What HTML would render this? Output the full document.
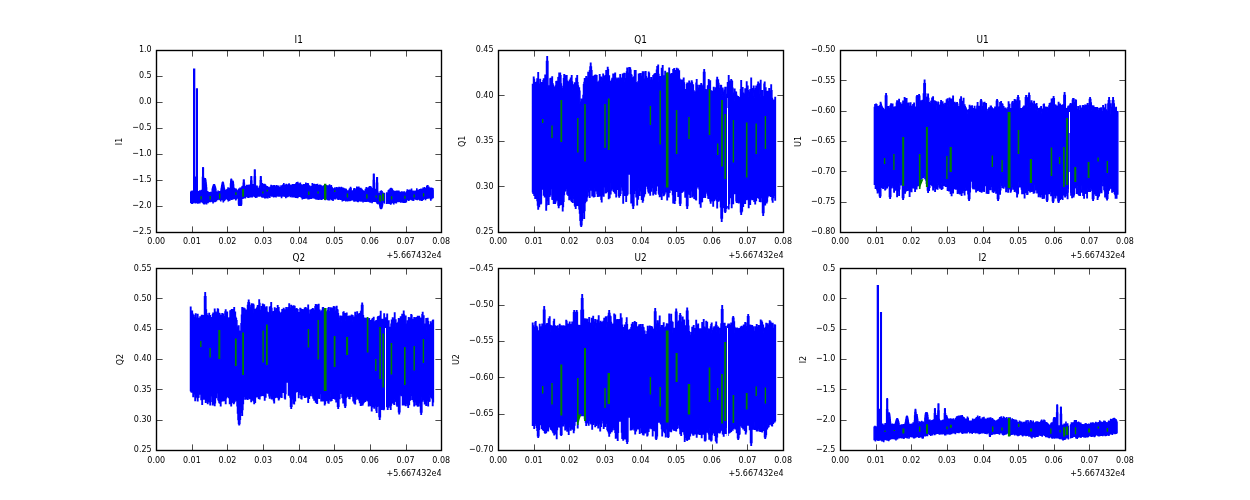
<!DOCTYPE html>
<html><head><meta charset="utf-8"><title>Stokes time series</title>
<style>
html,body{margin:0;padding:0;background:#fff;}
body{width:1250px;height:500px;overflow:hidden;}
svg{display:block;}
.t{font-family:'DejaVu Sans Condensed','DejaVu Sans','Liberation Sans',sans-serif;font-size:9.30px;fill:#000;}
.ti{font-family:'DejaVu Sans Condensed','DejaVu Sans','Liberation Sans',sans-serif;font-size:11.10px;fill:#000;}
</style></head><body>
<svg width="1250" height="500" viewBox="0 0 1250 500">
<rect width="1250" height="500" fill="#fff"/>
<g>
<clipPath id="c00"><rect x="156.25" y="50.00" width="284.93" height="181.82"/></clipPath>
<g clip-path="url(#c00)">
<path d="M190.68,192.8h.25V192.1h.25V191.4h.25V191.5h.25V191.5h.25V192.1h.25V191.2h.25V191.9h.25V192.9h.25V192h.25V193.9h.25V191.2h.25V191h.25V193.1h.25V193.1h.25V192.1h.25V193.3h.25V193.4h.25V193.3h.25V193h.25V192.7h.25V190.9h.25V193.5h.25V191h.25V192.8h.25V191.6h.25V192h.25V193.6h.25V192.5h.25V193.6h.25V194h.25V192.7h.25V191.8h.25V192.4h.25V193.1h.25V191.5h.25V191h.25V193.2h.25V192.7h.25V192.3h.25V191.2h.25V193.3h.25V192.4h.25V190.4h.25V192.2h.25V191.9h.25V191.7h.25V177.4h.25V168.3h.25V167.7h.25V168.3h.25V177.4h.25V185.3h.25V182.9h.25V181.1h.25V179.7h.25V179h.25V178.7h.25V179h.25V179.7h.25V181h.25V182.9h.25V185.2h.25V188h.25V192h.25V192.1h.25V191.8h.25V194h.25V192.9h.25V192.2h.25V193.9h.25V192.6h.25V192.7h.25V193.9h.25V194.2h.25V192.9h.25V193.6h.25V193.4h.25V192.8h.25V192.7h.25V192.5h.25V192.9h.25V193.4h.25V194.4h.25V193.9h.25V193.7h.25V189.4h.25V188.4h.25V187.5h.25V186.6h.25V185.9h.25V185.3h.25V184.9h.25V184.7h.25V184.9h.25V185.3h.25V185.9h.25V186.6h.25V187.5h.25V188.4h.25V189.4h.25V191.8h.25V193.7h.25V193.6h.25V193.9h.25V193.8h.25V192.8h.25V193.8h.25V194h.25V191.3h.25V193.2h.25V193h.25V193.1h.25V193.3h.25V192.1h.25V192.6h.25V191.8h.25V192.4h.25V192.7h.25V192.5h.25V192.1h.25V190.3h.25V188.8h.25V187.2h.25V185.7h.25V184.4h.25V183.3h.25V182.6h.25V182.2h.25V182.6h.25V183.3h.25V184.4h.25V185.6h.25V187.1h.25V188.7h.25V191.5h.25V192.1h.25V192.5h.25V192h.25V191.5h.25V190.8h.25V190.8h.25V190h.25V190.2h.25V191.3h.25V190.6h.25V191.1h.25V189.5h.25V190.6h.25V187.9h.25V191.1h.25V189.7h.25V190.2h.25V189.1h.25V190.6h.25V188.6h.25V191.4h.25V189.3h.25V187.7h.25V184h.25V181.3h.25V179.7h.25V179.2h.25V179.7h.25V181.3h.25V184h.25V182.9h.25V181.6h.25V181.2h.25V181.6h.25V182.9h.25V185h.25V188h.25V190.5h.25V190.1h.25V188.6h.25V189.5h.25V190.2h.25V189.8h.25V189.7h.25V189.1h.25V189.1h.25V191.1h.25V191.2h.25V190.3h.25V191.4h.25V190.9h.25V191h.25V192.2h.25V191h.25V192.1h.25V191.1h.25V189.2h.25V192h.25V190.6h.25V191.1h.25V190.6h.25V188.1h.25V189.4h.25V190.2h.25V188.7h.25V190.7h.25V188.3h.25V188h.25V189.5h.25V187h.25V187.5h.25V186.5h.25V189h.25V187.8h.25V183.1h.25V180.2h.25V180h.25V180.2h.25V183.1h.25V188.2h.25V189.1h.25V188h.25V189.3h.25V186.8h.25V186.8h.25V187.3h.25V187.8h.25V185.4h.25V185.7h.25V186.5h.25V187.8h.25V186.6h.25V185.4h.25V186.7h.25V187h.25V188.5h.25V187.2h.25V187.9h.25V185.2h.25V188.6h.25V187.9h.25V187.5h.25V189.4h.25V187h.25V181h.25V177h.25V176.7h.25V177h.25V181h.25V185.1h.25V184.9h.25V184.8h.25V184.7h.25V184.7h.25V184.7h.25V184.8h.25V184.9h.25V185h.25V176.9h.25V170.3h.25V169.9h.25V170.3h.25V176.9h.25V185.9h.25V188h.25V186.7h.25V186.3h.25V189.4h.25V188.2h.25V186.2h.25V189.7h.25V188.3h.25V188.4h.25V188.5h.25V188.8h.25V188.9h.25V188.4h.25V188.5h.25V188.4h.25V186.6h.25V186.1h.25V188.4h.25V180.8h.25V177h.25V176.7h.25V177h.25V180.8h.25V185.1h.25V184.6h.25V184.2h.25V183.7h.25V184.1h.25V184.6h.25V185h.25V185.5h.25V185.9h.25V186.4h.25V188.7h.25V186.6h.25V184.4h.25V185.8h.25V186.8h.25V184.9h.25V187h.25V186.3h.25V186.3h.25V187.6h.25V188.6h.25V188.3h.25V188.5h.25V186.6h.25V187.5h.25V188.4h.25V187.5h.25V187.9h.25V188.6h.25V188.1h.25V189h.25V188.7h.25V189h.25V189h.25V187.8h.25V187.1h.25V187.1h.25V188.6h.25V185.4h.25V187.5h.25V186.7h.25V187h.25V187.2h.25V186.7h.25V185.9h.25V186.7h.25V187.1h.25V186.9h.25V187.3h.25V188.2h.25V185.8h.25V188.1h.25V189h.25V185.9h.25V186.1h.25V187.8h.25V187.2h.25V187.4h.25V188.7h.25V187.1h.25V187.6h.25V185.8h.25V187.9h.25V188.3h.25V187.2h.25V187.5h.25V186.4h.25V188.6h.25V187.2h.25V186.2h.25V188.2h.25V188.5h.25V187.6h.25V187.7h.25V187.7h.25V187.9h.25V188.3h.25V187.5h.25V185.9h.25V188h.25V188.2h.25V185.9h.25V188.6h.25V187.9h.25V187h.25V185.1h.25V185.2h.25V185.4h.25V185.9h.25V183.8h.25V187.4h.25V185.9h.25V185.8h.25V185.2h.25V186h.25V186.2h.25V185.6h.25V185.4h.25V185.6h.25V184.4h.25V185.6h.25V186h.25V185.1h.25V185.6h.25V186.5h.25V186.4h.25V186.9h.25V185.8h.25V184.7h.25V185.4h.25V184h.25V186.6h.25V184.9h.25V185.1h.25V186.2h.25V185.7h.25V186.3h.25V186.2h.25V185.7h.25V186h.25V185.9h.25V185.1h.25V185.2h.25V186.3h.25V185.3h.25V184.7h.25V186.5h.25V184.7h.25V186.5h.25V185.2h.25V185.2h.25V186.2h.25V185.9h.25V184.6h.25V185.4h.25V185h.25V185.7h.25V184.7h.25V183.4h.25V184.4h.25V184.9h.25V182.7h.25V184.9h.25V185h.25V184.8h.25V182.5h.25V184.8h.25V185h.25V184.5h.25V184.3h.25V184h.25V184.1h.25V184.9h.25V185.5h.25V185.5h.25V183.2h.25V185.4h.25V184.7h.25V185.6h.25V186.6h.25V185.6h.25V185.3h.25V185.6h.25V186h.25V186.2h.25V186.6h.25V185.2h.25V185.7h.25V185h.25V184.8h.25V185.4h.25V185.3h.25V184.8h.25V184.8h.25V185.4h.25V185.1h.25V185.6h.25V183.3h.25V184.2h.25V184.7h.25V184.6h.25V185.1h.25V185.6h.25V185.8h.25V183.8h.25V185.9h.25V185.3h.25V184h.25V186.2h.25V186.5h.25V186.3h.25V186.1h.25V186h.25V186.6h.25V188.1h.25V188.2h.25V187.5h.25V188h.25V187.5h.25V187.8h.25V186.8h.25V186.7h.25V186.5h.25V183.8h.25V186.2h.25V184.4h.25V186h.25V185.4h.25V185.3h.25V185.2h.25V185.6h.25V184.5h.25V184.9h.25V185h.25V186.9h.25V187.2h.25V187h.25V186.3h.25V186.3h.25V184.7h.25V186.3h.25V184.7h.25V187h.25V187.1h.25V184.5h.25V186.8h.25V186.5h.25V185.6h.25V187.4h.25V187.5h.25V186.7h.25V186.3h.25V186.7h.25V185.2h.25V185.6h.25V185.8h.25V185.4h.25V186.1h.25V185.9h.25V186.1h.25V187.2h.25V187.6h.25V187.4h.25V187.5h.25V187.4h.25V188.6h.25V186.8h.25V186.2h.25V188.5h.25V187h.25V187.4h.25V185.6h.25V187.4h.25V187.3h.25V186.1h.25V186.1h.25V187h.25V186h.25V187.7h.25V185.6h.25V186.2h.25V186.5h.25V186h.25V187.6h.25V187h.25V188.5h.25V185.9h.25V187.2h.25V187.7h.25V186.1h.25V187.8h.25V186.5h.25V185h.25V186.9h.25V187h.25V186.9h.25V187h.25V187.7h.25V188.7h.25V185.7h.25V187.3h.25V188h.25V187.6h.25V188.6h.25V189.4h.25V190h.25V189.2h.25V188.9h.25V190h.25V189.8h.25V189.5h.25V191.1h.25V188.4h.25V189.9h.25V188h.25V189.3h.25V189.8h.25V190.5h.25V189.3h.25V190.6h.25V190h.25V187.6h.25V188.3h.25V188.7h.25V189.1h.25V189.1h.25V188.8h.25V188.2h.25V190.3h.25V188.2h.25V187.4h.25V189.4h.25V189.9h.25V190.6h.25V188.7h.25V189.5h.25V188h.25V188.3h.25V188h.25V187.4h.25V188.9h.25V188h.25V188.6h.25V189.1h.25V190.2h.25V188.2h.25V189.2h.25V189.4h.25V188.4h.25V190.2h.25V190.6h.25V189.1h.25V189h.25V189.8h.25V189.8h.25V189.3h.25V189.1h.25V189.7h.25V189.5h.25V190.1h.25V192.6h.25V191.2h.25V193.1h.25V192.7h.25V191.9h.25V192.4h.25V190.9h.25V192.6h.25V192.3h.25V192.9h.25V191.3h.25V190h.25V189.1h.25V189h.25V189.7h.25V190.3h.25V187.4h.25V190.5h.25V188.5h.25V192.4h.25V191.8h.25V191.7h.25V191.7h.25V191.3h.25V191.1h.25V191h.25V192.4h.25V191.6h.25V191.9h.25V189.2h.25V191.2h.25V188.6h.25V191.2h.25V190.2h.25V190.5h.25V190.9h.25V191.1h.25V190.2h.25V189.2h.25V190.4h.25V188.8h.25V187.1h.25V189.2h.25V189h.25V187.5h.25V189.5h.25V189.7h.25V188.2h.25V188.5h.25V187.1h.25V188.3h.25V188.8h.25V189.2h.25V189.6h.25V189.2h.25V190.2h.25V190.7h.25V188.5h.25V189.1h.25V190.9h.25V191.1h.25V189.5h.25V190.1h.25V191.9h.25V190.9h.25V191.2h.25V191.3h.25V190.9h.25V191.7h.25V194.2h.25V192.5h.25V193.8h.25V191.8h.25V192.1h.25V192.7h.25V190.2h.25V189.5h.25V190.3h.25V189.3h.25V187.7h.25V190.7h.25V189.7h.25V188.6h.25V189.9h.25V189.5h.25V188.3h.25V190.7h.25V191.2h.25V188.9h.25V188.1h.25V187.6h.25V187.2h.25V186.9h.25V186.7h.25V186.7h.25V186.7h.25V186.9h.25V187.2h.25V187.6h.25V188.1h.25V188.8h.25V190.8h.25V191.2h.25V190.9h.25V189h.25V189.2h.25V190.2h.25V180.5h.25V174.5h.25V174.1h.25V174.5h.25V180.7h.25V192.8h.25V192.4h.25V192.2h.25V189.5h.25V190.5h.25V190.1h.25V190.7h.25V190.4h.25V183.1h.25V178h.25V177.7h.25V178h.25V183.2h.25V191.9h.25V193.5h.25V193.6h.25V193.7h.25V193.5h.25V193.6h.25V193.8h.25V193.8h.25V194.4h.25V193.7h.25V191.7h.25V191.9h.25V192.3h.25V193h.25V191h.25V193.9h.25V194.2h.25V191.7h.25V193.5h.25V193.6h.25V193.7h.25V193.3h.25V193.5h.25V193.3h.25V194.5h.25V193.9h.25V194.3h.25V193.8h.25V194.1h.25V195.6h.25V194.8h.25V194.2h.25V193.9h.25V194.6h.25V194.2h.25V193h.25V194.7h.25V194.4h.25V194.2h.25V194.4h.25V193.4h.25V193.3h.25V191.2h.25V190.6h.25V191h.25V191.2h.25V190h.25V190.8h.25V190.7h.25V189.9h.25V188.9h.25V189.2h.25V188.8h.25V188.4h.25V188.7h.25V189.1h.25V189.5h.25V189.9h.25V189.3h.25V190.9h.25V190.7h.25V191.2h.25V191.5h.25V191.9h.25V191.1h.25V192.7h.25V192.3h.25V191.8h.25V192h.25V192h.25V191.9h.25V192.9h.25V192.8h.25V193h.25V191.2h.25V191.3h.25V192.9h.25V192.3h.25V192.1h.25V191.1h.25V191.3h.25V192.5h.25V192h.25V191.8h.25V191.3h.25V193.6h.25V193.6h.25V192.3h.25V192.6h.25V193.5h.25V193.6h.25V193.3h.25V194.3h.25V193h.25V192.5h.25V193.8h.25V192h.25V192.2h.25V194.1h.25V192.5h.25V192.4h.25V192.8h.25V194.7h.25V194.1h.25V192.2h.25V193.8h.25V192h.25V193.1h.25V193.8h.25V193.1h.25V194h.25V194.6h.25V193.8h.25V194.4h.25V192.5h.25V193h.25V192h.25V191.4h.25V189.9h.25V191.4h.25V191.5h.25V191.3h.25V192.4h.25V191.7h.25V190.5h.25V191.5h.25V191.7h.25V190.9h.25V190.2h.25V191.6h.25V191.9h.25V191.7h.25V190.8h.25V191.9h.25V191.9h.25V189.2h.25V192.3h.25V193.6h.25V191.9h.25V192.3h.25V191.5h.25V191.1h.25V193.2h.25V192h.25V193h.25V192.1h.25V193.5h.25V191.8h.25V192.2h.25V191.2h.25V191.6h.25V191.1h.25V191.6h.25V192.5h.25V191.7h.25V191.8h.25V189h.25V192.1h.25V190.4h.25V191.8h.25V191.3h.25V190.4h.25V190.7h.25V191.9h.25V191.2h.25V191.1h.25V190.4h.25V189.7h.25V189.8h.25V190.9h.25V189.7h.25V189.6h.25V190.2h.25V189.3h.25V190.1h.25V189.6h.25V190.1h.25V190.4h.25V191h.25V189.9h.25V189.8h.25V188.3h.25V190.3h.25V190.7h.25V190h.25V189.2h.25V190.3h.25V187.8h.25V190.1h.25V189.3h.25V190.4h.25V189.4h.25V188.8h.25V189.4h.25V189.8h.25V188.1h.25V186.1h.25V188.6h.25V187.5h.25V187.9h.25V185.7h.25V189.7h.25V188.1h.25V190.2h.25V187.3h.25V189.9h.25V189.1h.25V189.2h.25V189h.25V188.1h.25V190.1h.25V189.5h.25V189.7h.25V191h.25V189.6h.25V188.3h.25V189.9h.25V190.7h.25V190.7h.25V190.3h.25V188.6h.25V190.2h.25V197.5h-.25V197.3h-.25V197.4h-.25V197.3h-.25V197.3h-.25V198.6h-.25V198.1h-.25V198.2h-.25V197.8h-.25V200h-.25V198.7h-.25V198.2h-.25V196.9h-.25V197h-.25V196.9h-.25V196.2h-.25V197.2h-.25V197.6h-.25V197.5h-.25V196h-.25V198h-.25V197.5h-.25V197.5h-.25V197.9h-.25V196.5h-.25V197.6h-.25V198.3h-.25V197.7h-.25V198.1h-.25V198.3h-.25V199.6h-.25V198.4h-.25V198h-.25V198.4h-.25V198.2h-.25V198.4h-.25V198.2h-.25V198.3h-.25V198.9h-.25V197.8h-.25V199.2h-.25V199.2h-.25V198.4h-.25V200h-.25V198.7h-.25V200.2h-.25V198.3h-.25V199h-.25V199.4h-.25V199h-.25V199.2h-.25V198h-.25V200h-.25V199.5h-.25V199.2h-.25V198.9h-.25V198.1h-.25V198.9h-.25V198.4h-.25V198.1h-.25V198.1h-.25V199h-.25V199h-.25V199.6h-.25V199h-.25V197.8h-.25V198.3h-.25V196.9h-.25V199.2h-.25V198.3h-.25V198h-.25V198.6h-.25V197.7h-.25V197.8h-.25V197.1h-.25V198.5h-.25V198.5h-.25V199.4h-.25V200.4h-.25V199h-.25V200.1h-.25V198.8h-.25V199.7h-.25V200h-.25V198.5h-.25V198.8h-.25V199.2h-.25V198.9h-.25V198.8h-.25V199h-.25V198.7h-.25V199h-.25V198.8h-.25V198.4h-.25V199.6h-.25V198.3h-.25V199.4h-.25V200.3h-.25V199.8h-.25V199.5h-.25V198.5h-.25V198.9h-.25V198.8h-.25V199.7h-.25V199.3h-.25V199.9h-.25V199.2h-.25V201.7h-.25V199.5h-.25V200.2h-.25V200h-.25V200.2h-.25V202.2h-.25V201.1h-.25V202.1h-.25V200.8h-.25V202.4h-.25V200.8h-.25V202.4h-.25V200.6h-.25V202.1h-.25V202h-.25V200.9h-.25V200.5h-.25V200.7h-.25V201.7h-.25V200.4h-.25V199.7h-.25V201.5h-.25V202h-.25V202h-.25V200.6h-.25V201h-.25V199.8h-.25V200.4h-.25V201.4h-.25V199.6h-.25V200.3h-.25V201.4h-.25V199.7h-.25V201.6h-.25V200.1h-.25V200h-.25V199.6h-.25V201.5h-.25V201h-.25V200h-.25V202.7h-.25V201.2h-.25V202.5h-.25V201.7h-.25V201.5h-.25V202.1h-.25V202.3h-.25V200.8h-.25V201.4h-.25V201.5h-.25V203.9h-.25V202.5h-.25V202.1h-.25V201.8h-.25V201.3h-.25V201.5h-.25V201.8h-.25V202.1h-.25V202.4h-.25V203.1h-.25V202.2h-.25V202.1h-.25V204h-.25V202.9h-.25V203.6h-.25V202.1h-.25V202.4h-.25V201.2h-.25V202.4h-.25V203.3h-.25V203.1h-.25V201.9h-.25V201.1h-.25V202.1h-.25V201.5h-.25V202h-.25V202.6h-.25V203.4h-.25V201.8h-.25V201.4h-.25V202.1h-.25V202.2h-.25V202.3h-.25V203.2h-.25V202.4h-.25V201.8h-.25V202.7h-.25V200.8h-.25V200.9h-.25V201.1h-.25V200.9h-.25V202h-.25V201h-.25V200.9h-.25V203.1h-.25V204.5h-.25V205.7h-.25V206.7h-.25V207.5h-.25V208.1h-.25V208.4h-.25V208.5h-.25V208.4h-.25V208h-.25V207.5h-.25V206.7h-.25V205.6h-.25V204.3h-.25V202.8h-.25V202.3h-.25V201.3h-.25V202.6h-.25V200.2h-.25V202h-.25V203.5h-.25V201.5h-.25V203.2h-.25V202.1h-.25V202.1h-.25V201.3h-.25V201.5h-.25V199.9h-.25V201h-.25V200.4h-.25V200.3h-.25V201.4h-.25V200.2h-.25V201.3h-.25V200.9h-.25V201.4h-.25V199.9h-.25V200.6h-.25V201.2h-.25V201h-.25V200.2h-.25V201h-.25V201h-.25V202.5h-.25V200.6h-.25V200.4h-.25V199.9h-.25V200.8h-.25V200.6h-.25V200.7h-.25V202.1h-.25V200.4h-.25V200.4h-.25V201.5h-.25V200.7h-.25V201.2h-.25V200.7h-.25V201h-.25V200.8h-.25V200.5h-.25V199.6h-.25V200.6h-.25V199.3h-.25V199.7h-.25V201.2h-.25V199.9h-.25V200.9h-.25V199.9h-.25V201.3h-.25V201h-.25V200.8h-.25V201.4h-.25V201.1h-.25V200.7h-.25V200.4h-.25V200.5h-.25V200.1h-.25V200h-.25V199.8h-.25V201.7h-.25V200.8h-.25V200.9h-.25V200h-.25V200.3h-.25V200.4h-.25V200.1h-.25V199.3h-.25V201h-.25V200.1h-.25V199.8h-.25V199.6h-.25V200.1h-.25V200.9h-.25V200.2h-.25V199.6h-.25V200.9h-.25V200.6h-.25V199.9h-.25V200.7h-.25V201.5h-.25V200.9h-.25V200.9h-.25V201.3h-.25V200.4h-.25V199.2h-.25V199.4h-.25V199.1h-.25V199.3h-.25V198.3h-.25V200.5h-.25V199.1h-.25V199h-.25V201h-.25V200.4h-.25V199.8h-.25V201h-.25V200h-.25V198.5h-.25V199.5h-.25V199.5h-.25V199.5h-.25V199.7h-.25V199.5h-.25V199.1h-.25V198.6h-.25V199.5h-.25V199.4h-.25V199.8h-.25V199.5h-.25V200.4h-.25V200.2h-.25V199.4h-.25V200.5h-.25V199.3h-.25V199.5h-.25V200.4h-.25V200.1h-.25V200.4h-.25V199.6h-.25V199.5h-.25V200.9h-.25V199.6h-.25V199.1h-.25V198.8h-.25V200.5h-.25V199h-.25V198.4h-.25V199.4h-.25V200.8h-.25V199h-.25V199.3h-.25V198.9h-.25V198.9h-.25V199.3h-.25V199.8h-.25V198.6h-.25V200.4h-.25V198.6h-.25V198.1h-.25V198.3h-.25V198.7h-.25V198.7h-.25V200.7h-.25V198.7h-.25V198.9h-.25V199.1h-.25V198.8h-.25V199.1h-.25V198.9h-.25V199.4h-.25V198.2h-.25V199.1h-.25V198.7h-.25V198.8h-.25V197.6h-.25V198.3h-.25V198.2h-.25V197.5h-.25V199.3h-.25V197.6h-.25V197.7h-.25V198.7h-.25V198.1h-.25V197.2h-.25V197.7h-.25V197.4h-.25V197.5h-.25V197.4h-.25V197.4h-.25V197.8h-.25V198.9h-.25V198.7h-.25V196.6h-.25V197.8h-.25V198.6h-.25V197.4h-.25V197.8h-.25V198.3h-.25V197.8h-.25V200.2h-.25V198h-.25V198.5h-.25V199.1h-.25V199.2h-.25V199.6h-.25V197.6h-.25V198.1h-.25V197.9h-.25V198h-.25V198.8h-.25V198.2h-.25V198.4h-.25V197.6h-.25V199.9h-.25V197.9h-.25V199h-.25V198.4h-.25V198.1h-.25V199.9h-.25V198.5h-.25V199.2h-.25V198.8h-.25V198.6h-.25V198.2h-.25V197.7h-.25V198.3h-.25V197.5h-.25V198.5h-.25V198.9h-.25V197.9h-.25V199.5h-.25V199.2h-.25V197.3h-.25V196.8h-.25V198h-.25V198.2h-.25V198.1h-.25V197.7h-.25V198.2h-.25V198.4h-.25V198.6h-.25V198.3h-.25V198.5h-.25V198.5h-.25V199h-.25V199.2h-.25V198h-.25V198.8h-.25V198.1h-.25V198.6h-.25V199h-.25V197.8h-.25V198.7h-.25V198.4h-.25V198.6h-.25V197.9h-.25V198.8h-.25V199.3h-.25V199.1h-.25V196.9h-.25V198.1h-.25V197.4h-.25V197.2h-.25V199.1h-.25V197.7h-.25V197.8h-.25V197.2h-.25V197.7h-.25V198.9h-.25V198.5h-.25V197.5h-.25V197.2h-.25V197.4h-.25V198h-.25V197.6h-.25V197.9h-.25V196.8h-.25V196.2h-.25V197.4h-.25V196.8h-.25V195.7h-.25V197.7h-.25V196.1h-.25V197.3h-.25V196.1h-.25V197h-.25V198.1h-.25V198.2h-.25V197.5h-.25V197.7h-.25V197h-.25V198.4h-.25V197.6h-.25V196.7h-.25V198.5h-.25V196.6h-.25V198.1h-.25V198.7h-.25V197.7h-.25V198.9h-.25V197.5h-.25V197.8h-.25V197.6h-.25V197.7h-.25V197.2h-.25V196.6h-.25V197.7h-.25V197.7h-.25V198h-.25V197.6h-.25V197.7h-.25V197.1h-.25V197.3h-.25V196.3h-.25V196.6h-.25V198.4h-.25V198.4h-.25V197h-.25V197.3h-.25V196.8h-.25V198.4h-.25V196.4h-.25V198.7h-.25V197.4h-.25V197h-.25V197h-.25V197.1h-.25V195.8h-.25V196.2h-.25V196h-.25V195.4h-.25V195.2h-.25V195.5h-.25V195.4h-.25V196.2h-.25V196.1h-.25V196h-.25V196.2h-.25V195.9h-.25V195.1h-.25V197.3h-.25V197.6h-.25V196.1h-.25V196h-.25V196.2h-.25V197.4h-.25V196.2h-.25V197.4h-.25V195.8h-.25V197.3h-.25V196.2h-.25V195.6h-.25V195.5h-.25V195.4h-.25V195.9h-.25V196h-.25V196.7h-.25V195.8h-.25V196.7h-.25V195.2h-.25V196.2h-.25V196.5h-.25V195.9h-.25V196.7h-.25V195.2h-.25V195.6h-.25V194.6h-.25V194.7h-.25V193.9h-.25V194.4h-.25V196.6h-.25V194.4h-.25V194.7h-.25V194.7h-.25V195.4h-.25V194.3h-.25V194.5h-.25V194.8h-.25V196.1h-.25V195.9h-.25V196h-.25V196.5h-.25V195.4h-.25V195.2h-.25V194.9h-.25V196.8h-.25V195.5h-.25V196.9h-.25V197.5h-.25V195.6h-.25V196.4h-.25V195.5h-.25V195.3h-.25V195.8h-.25V196.1h-.25V196.1h-.25V194.7h-.25V195.6h-.25V195.4h-.25V194h-.25V195.7h-.25V195.7h-.25V195.3h-.25V196h-.25V195.6h-.25V197.5h-.25V196.2h-.25V195.5h-.25V195.3h-.25V195.5h-.25V195.1h-.25V195.9h-.25V195.4h-.25V194.9h-.25V196.1h-.25V195.1h-.25V195.6h-.25V194.9h-.25V194.3h-.25V196h-.25V195.6h-.25V195h-.25V194.6h-.25V194.8h-.25V195.2h-.25V195.1h-.25V195.3h-.25V196.9h-.25V194.4h-.25V194.4h-.25V195.6h-.25V195.2h-.25V195.4h-.25V196.1h-.25V196.2h-.25V195.6h-.25V196.8h-.25V196.5h-.25V195.9h-.25V195.3h-.25V195.6h-.25V196.1h-.25V195.4h-.25V195.3h-.25V196.1h-.25V195.5h-.25V195h-.25V195.2h-.25V195h-.25V195.6h-.25V194.5h-.25V195.4h-.25V197.3h-.25V196h-.25V195.9h-.25V195.6h-.25V196.1h-.25V196.4h-.25V196.7h-.25V196.2h-.25V197.8h-.25V197.7h-.25V196.4h-.25V196h-.25V197.4h-.25V195.8h-.25V196.6h-.25V196.1h-.25V197h-.25V197.9h-.25V196.2h-.25V197.2h-.25V197.9h-.25V196.4h-.25V196.5h-.25V196.6h-.25V197h-.25V196.4h-.25V195.9h-.25V196.5h-.25V197.1h-.25V196h-.25V196.1h-.25V195.4h-.25V196.7h-.25V196.1h-.25V195.8h-.25V195.6h-.25V194.6h-.25V195.2h-.25V195.6h-.25V195h-.25V195.4h-.25V196.1h-.25V195.3h-.25V195.7h-.25V195.1h-.25V195.6h-.25V195.2h-.25V196h-.25V195.1h-.25V195.1h-.25V195.1h-.25V194.9h-.25V197.1h-.25V196.2h-.25V195.6h-.25V196.5h-.25V195.3h-.25V197.2h-.25V195.5h-.25V195.9h-.25V195.6h-.25V196.4h-.25V195h-.25V195.1h-.25V194.9h-.25V195.8h-.25V195.2h-.25V194.7h-.25V195.3h-.25V195.9h-.25V196.7h-.25V196.6h-.25V195.4h-.25V195.7h-.25V196.5h-.25V196.7h-.25V195.9h-.25V195h-.25V195.9h-.25V196.8h-.25V196.9h-.25V195.4h-.25V195.9h-.25V197h-.25V196.3h-.25V196.7h-.25V195.9h-.25V197.2h-.25V196.2h-.25V196.1h-.25V195.3h-.25V196.6h-.25V195.1h-.25V195.2h-.25V195.3h-.25V194.7h-.25V195.5h-.25V196.2h-.25V197.9h-.25V197.2h-.25V197.3h-.25V197.4h-.25V197.1h-.25V197.6h-.25V196.7h-.25V196.6h-.25V197.9h-.25V197.8h-.25V198.4h-.25V195.9h-.25V196.7h-.25V198.4h-.25V196.1h-.25V203.7h-.25V204.9h-.25V205.2h-.25V205.3h-.25V205.3h-.25V205.3h-.25V205.3h-.25V205.3h-.25V205.3h-.25V205.3h-.25V205.2h-.25V204.9h-.25V203.8h-.25V197h-.25V196.7h-.25V197.2h-.25V197.9h-.25V197.6h-.25V198.1h-.25V197.9h-.25V197.3h-.25V198.8h-.25V197.9h-.25V199.9h-.25V198.1h-.25V198.7h-.25V196.1h-.25V198.2h-.25V196.7h-.25V197.3h-.25V196.6h-.25V198.2h-.25V197.1h-.25V197.6h-.25V198.9h-.25V198.1h-.25V197.4h-.25V197.4h-.25V196.6h-.25V199.2h-.25V196.9h-.25V197.4h-.25V197.6h-.25V197.4h-.25V199h-.25V197.7h-.25V197.6h-.25V200h-.25V199.2h-.25V199.5h-.25V199h-.25V200.4h-.25V199.3h-.25V200.7h-.25V198.8h-.25V199.3h-.25V199.2h-.25V198.6h-.25V198.6h-.25V198.6h-.25V198.5h-.25V198.2h-.25V198.4h-.25V198.4h-.25V198.2h-.25V198.1h-.25V199.5h-.25V199.4h-.25V199h-.25V200.4h-.25V200h-.25V199.5h-.25V201h-.25V201.7h-.25V199.5h-.25V199.8h-.25V199.3h-.25V199.4h-.25V199h-.25V199h-.25V199.3h-.25V199h-.25V198.5h-.25V200.7h-.25V198.8h-.25V198.2h-.25V199.4h-.25V197.9h-.25V198.3h-.25V199.5h-.25V198.3h-.25V198.7h-.25V198.6h-.25V199.1h-.25V197.9h-.25V199.1h-.25V198.5h-.25V198.8h-.25V199.3h-.25V199.3h-.25V200.5h-.25V200h-.25V200h-.25V200.3h-.25V201.4h-.25V199.7h-.25V199.7h-.25V201.5h-.25V201.4h-.25V200.2h-.25V200.5h-.25V201.1h-.25V201.3h-.25V201.1h-.25V202.8h-.25V200.5h-.25V201.2h-.25V201h-.25V200.3h-.25V200.9h-.25V201.1h-.25V199.7h-.25V200.9h-.25V200.3h-.25V201.5h-.25V200h-.25V201.2h-.25V201.6h-.25V199.8h-.25V201h-.25V200.4h-.25V200.7h-.25V201.4h-.25V200.7h-.25V202.6h-.25V201.3h-.25V201.9h-.25V201.6h-.25V201.8h-.25V201.6h-.25V203.7h-.25V203h-.25V201.9h-.25V202h-.25V202.4h-.25V201.4h-.25V202.3h-.25V202.7h-.25V203.9h-.25V203.4h-.25V203.8h-.25V203.4h-.25V203.1h-.25V202.7h-.25V202.3h-.25V202h-.25V201.2h-.25V201.3h-.25V200.7h-.25V201.8h-.25V201.8h-.25V201.5h-.25V201.3h-.25V201.2h-.25V200.7h-.25V201.1h-.25V201.4h-.25V202.8h-.25V200.7h-.25V201.6h-.25V201.2h-.25V201.3h-.25V202.7h-.25V202.5h-.25V200.6h-.25V203.1h-.25V201.2h-.25V201.8h-.25V201.3h-.25V200.9h-.25V202h-.25V202.6h-.25V201.5h-.25V201.8h-.25V202.9h-.25V201.9h-.25V201.5h-.25V201.8h-.25V200.8h-.25V200.9h-.25V201.2h-.25V202.5h-.25V201.9h-.25V202.2h-.25V202.4h-.25V202.6h-.25V202.8h-.25V203.1h-.25V203.3h-.25V203.1h-.25V202.8h-.25V202.6h-.25V202.4h-.25V202.2h-.25Z" fill="#0000ff" stroke="#0000ff" stroke-width="1.39" stroke-linejoin="miter"/>
<line x1="194.15" y1="68.6" x2="194.15" y2="195.0" stroke="#0000ff" stroke-width="2.30"/>
<line x1="196.95" y1="88.3" x2="196.95" y2="195.0" stroke="#0000ff" stroke-width="2.10"/>
<line x1="195.60" y1="176.5" x2="195.60" y2="195.0" stroke="#0000ff" stroke-width="1.20"/>
<line x1="385.5" y1="186.0" x2="385.5" y2="208.0" stroke="#fff" stroke-width="0.7"/>
<line x1="201.1" y1="196.2" x2="201.1" y2="199.4" stroke="#008000" stroke-width="1.4"/>
<line x1="210.2" y1="196.0" x2="210.2" y2="199.4" stroke="#008000" stroke-width="1.4"/>
<line x1="219.7" y1="193.6" x2="219.7" y2="198.8" stroke="#008000" stroke-width="1.4"/>
<line x1="235.9" y1="192.3" x2="235.9" y2="194.9" stroke="#008000" stroke-width="1.4"/>
<line x1="243.1" y1="189.0" x2="243.1" y2="196.8" stroke="#008000" stroke-width="2.0"/>
<line x1="262.9" y1="191.6" x2="262.9" y2="193.6" stroke="#008000" stroke-width="1.4"/>
<line x1="267.2" y1="189.7" x2="267.2" y2="191.6" stroke="#008000" stroke-width="1.4"/>
<line x1="308.8" y1="191.6" x2="308.8" y2="194.9" stroke="#008000" stroke-width="1.4"/>
<line x1="318.1" y1="191.6" x2="318.1" y2="193.6" stroke="#008000" stroke-width="1.4"/>
<line x1="325.2" y1="183.8" x2="325.2" y2="200.0" stroke="#008000" stroke-width="2.4"/>
<line x1="334.8" y1="190.3" x2="334.8" y2="191.9" stroke="#008000" stroke-width="1.4"/>
<line x1="347.4" y1="193.6" x2="347.4" y2="197.5" stroke="#008000" stroke-width="1.4"/>
<line x1="366.9" y1="194.2" x2="366.9" y2="198.4" stroke="#008000" stroke-width="1.4"/>
<line x1="376.2" y1="195.5" x2="376.2" y2="197.5" stroke="#008000" stroke-width="1.4"/>
<line x1="380.2" y1="195.3" x2="380.2" y2="201.4" stroke="#008000" stroke-width="2.0"/>
<line x1="383.1" y1="193.6" x2="383.1" y2="200.7" stroke="#008000" stroke-width="2.0"/>
<line x1="391.6" y1="196.2" x2="391.6" y2="199.4" stroke="#008000" stroke-width="1.4"/>
<line x1="404.9" y1="195.8" x2="404.9" y2="198.8" stroke="#008000" stroke-width="1.4"/>
<line x1="414.2" y1="194.5" x2="414.2" y2="197.5" stroke="#008000" stroke-width="1.4"/>
<line x1="423.6" y1="193.2" x2="423.6" y2="196.6" stroke="#008000" stroke-width="1.4"/>
</g>
<path d="M156.5,232.5v-6.1M156.5,50.5v6.1M192.5,232.5v-6.1M192.5,50.5v6.1M227.5,232.5v-6.1M227.5,50.5v6.1M263.5,232.5v-6.1M263.5,50.5v6.1M299.5,232.5v-6.1M299.5,50.5v6.1M334.5,232.5v-6.1M334.5,50.5v6.1M370.5,232.5v-6.1M370.5,50.5v6.1M406.5,232.5v-6.1M406.5,50.5v6.1M441.5,232.5v-6.1M441.5,50.5v6.1M156.5,232.5h6.1M441.5,232.5h-6.1M156.5,206.5h6.1M441.5,206.5h-6.1M156.5,180.5h6.1M441.5,180.5h-6.1M156.5,154.5h6.1M441.5,154.5h-6.1M156.5,128.5h6.1M441.5,128.5h-6.1M156.5,102.5h6.1M441.5,102.5h-6.1M156.5,76.5h6.1M441.5,76.5h-6.1M156.5,50.5h6.1M441.5,50.5h-6.1" stroke="#000" stroke-width="0.7" fill="none"/>
<rect x="156.5" y="50.5" width="285.0" height="182.0" fill="none" stroke="#000" stroke-width="1.39"/>
<text class="t" text-anchor="middle" transform="translate(156.25,244.00) scale(0.960,1)">0.00</text>
<text class="t" text-anchor="middle" transform="translate(191.87,244.00) scale(0.960,1)">0.01</text>
<text class="t" text-anchor="middle" transform="translate(227.48,244.00) scale(0.960,1)">0.02</text>
<text class="t" text-anchor="middle" transform="translate(263.10,244.00) scale(0.960,1)">0.03</text>
<text class="t" text-anchor="middle" transform="translate(298.71,244.00) scale(0.960,1)">0.04</text>
<text class="t" text-anchor="middle" transform="translate(334.33,244.00) scale(0.960,1)">0.05</text>
<text class="t" text-anchor="middle" transform="translate(369.94,244.00) scale(0.960,1)">0.06</text>
<text class="t" text-anchor="middle" transform="translate(405.56,244.00) scale(0.960,1)">0.07</text>
<text class="t" text-anchor="middle" transform="translate(441.18,244.00) scale(0.960,1)">0.08</text>
<text class="t" text-anchor="end" transform="translate(441.58,258.02) scale(0.960,1)">+5.667432e4</text>
<text class="t" text-anchor="end" transform="translate(151.65,234.00) scale(0.960,1)">−2.5</text>
<text class="t" text-anchor="end" transform="translate(151.65,208.00) scale(0.960,1)">−2.0</text>
<text class="t" text-anchor="end" transform="translate(151.65,182.00) scale(0.960,1)">−1.5</text>
<text class="t" text-anchor="end" transform="translate(151.65,156.00) scale(0.960,1)">−1.0</text>
<text class="t" text-anchor="end" transform="translate(151.65,130.00) scale(0.960,1)">−0.5</text>
<text class="t" text-anchor="end" transform="translate(151.65,104.00) scale(0.960,1)">0.0</text>
<text class="t" text-anchor="end" transform="translate(151.65,78.00) scale(0.960,1)">0.5</text>
<text class="t" text-anchor="end" transform="translate(151.65,52.00) scale(0.960,1)">1.0</text>
<text class="ti" text-anchor="middle" transform="translate(298.71,43.00) scale(0.890,1)">I1</text>
<text class="t" text-anchor="middle" transform="translate(121.95,141.41) rotate(-90) scale(0.960,1)">I1</text>
</g>
<g>
<clipPath id="c10"><rect x="498.16" y="50.00" width="284.93" height="181.82"/></clipPath>
<g clip-path="url(#c10)">
<path d="M532.45,84.5h.5V87.3h.5V77.3h.5V79.4h.5V85.3h.5V83.7h.5V82.7h.5V82.6h.5V82.1h.5V78.9h.5V82.7h.5V72.8h.5V84.1h.5V84.2h.5V85.2h.5V79.4h.5V82.9h.5V84.1h.5V85.2h.5V82.8h.5V84.6h.5V80.6h.5V79h.5V79.8h.5V81.4h.5V75.1h.5V79.1h.5V79.3h.5V61.5h.5V56.7h.5V61.5h.5V88h.5V88.1h.5V86h.5V92.5h.5V79h.5V78.4h.5V79.8h.5V83.1h.5V76.9h.5V83.6h.5V85.2h.5V88.2h.5V89.8h.5V88h.5V87h.5V86h.5V81.8h.5V81.4h.5V84.4h.5V82.1h.5V77.6h.5V77.4h.5V73.1h.5V78.7h.5V73.2h.5V75.7h.5V83.9h.5V90.6h.5V88.7h.5V89.6h.5V86.5h.5V78.8h.5V74.6h.5V75.4h.5V81.8h.5V77.1h.5V76.3h.5V75.8h.5V81.1h.5V86.7h.5V86.3h.5V82h.5V82.7h.5V80.1h.5V85.2h.5V78.1h.5V85.5h.5V75.6h.5V81.9h.5V87.6h.5V89.9h.5V86h.5V84.8h.5V82.9h.5V85.5h.5V83.4h.5V78.5h.5V85.1h.5V75.7h.5V82.6h.5V85.9h.5V94.2h.5V88h.5V91.2h.5V104.3h.5V106.5h.5V102.3h.5V99.3h.5V109h.5V108.8h.5V95.4h.5V84.6h.5V82.4h.5V78.6h.5V82.1h.5V80.5h.5V76.7h.5V78.3h.5V78.4h.5V79.8h.5V72.5h.5V80.2h.5V77.1h.5V70.7h.5V66.9h.5V63.1h.5V66.9h.5V70.7h.5V78.2h.5V78.5h.5V76.7h.5V76.5h.5V77.3h.5V75.6h.5V75.4h.5V75.3h.5V77.9h.5V75.6h.5V82.2h.5V85.4h.5V82.2h.5V83.9h.5V81.1h.5V74.8h.5V78.8h.5V77.4h.5V77.2h.5V78.4h.5V80.9h.5V85.9h.5V74.2h.5V80h.5V82.6h.5V76.2h.5V79.3h.5V75.8h.5V70.8h.5V72.8h.5V75.6h.5V67.5h.5V69.8h.5V79h.5V76h.5V82.7h.5V83.9h.5V81.4h.5V85h.5V80.1h.5V78.4h.5V79.4h.5V74.1h.5V77.5h.5V74.7h.5V74.1h.5V73.1h.5V78h.5V82.1h.5V78.9h.5V83.6h.5V79.1h.5V78.2h.5V79.3h.5V79.5h.5V79.7h.5V74.7h.5V80.8h.5V78.3h.5V78.6h.5V78.9h.5V74.3h.5V75.7h.5V75h.5V73.5h.5V78.8h.5V82.4h.5V80.7h.5V73.7h.5V71.9h.5V68.3h.5V73.7h.5V75.8h.5V73.1h.5V67.8h.5V75h.5V67.9h.5V70.2h.5V74.6h.5V75.4h.5V78.1h.5V78.2h.5V79.2h.5V77.7h.5V76.7h.5V70.7h.5V77.8h.5V70.7h.5V82.7h.5V84.8h.5V85.6h.5V83.5h.5V81.7h.5V74.1h.5V77.1h.5V77.6h.5V73.7h.5V76.4h.5V77.1h.5V80.1h.5V73.7h.5V72h.5V75.6h.5V71.9h.5V79.2h.5V82.1h.5V79.4h.5V71.7h.5V76.8h.5V78.7h.5V79.1h.5V79h.5V78.3h.5V72.2h.5V73.4h.5V80.2h.5V80.3h.5V84.9h.5V77.7h.5V82.4h.5V80.2h.5V84.5h.5V75.7h.5V83.2h.5V74.7h.5V74h.5V74.2h.5V73.8h.5V74h.5V70.2h.5V66.8h.5V72.1h.5V65.1h.5V74.4h.5V81.9h.5V76.8h.5V81.4h.5V76.9h.5V79.1h.5V68.4h.5V76.1h.5V65.6h.5V76.1h.5V75.9h.5V77.8h.5V82.3h.5V71.5h.5V75.9h.5V74h.5V78.4h.5V74.5h.5V73.2h.5V74.1h.5V77.7h.5V68.3h.5V74.1h.5V74.6h.5V77.7h.5V76.9h.5V73.8h.5V75h.5V75.2h.5V69.6h.5V75.7h.5V68.6h.5V76.4h.5V72.3h.5V70.6h.5V77.4h.5V68.5h.5V71.7h.5V69.2h.5V69.2h.5V80.1h.5V70.9h.5V79.2h.5V80.1h.5V80.3h.5V86h.5V88h.5V80.2h.5V85.8h.5V82.3h.5V78.1h.5V83h.5V89.9h.5V89.6h.5V95.5h.5V96.5h.5V84.6h.5V83.3h.5V83.5h.5V85.5h.5V87.3h.5V81.2h.5V86.3h.5V86h.5V83.3h.5V86.8h.5V80.9h.5V82.4h.5V87.9h.5V84.9h.5V90.6h.5V92.3h.5V92h.5V94.1h.5V92h.5V83.1h.5V79.6h.5V87h.5V85.4h.5V90.7h.5V90.2h.5V88.3h.5V85.4h.5V91.7h.5V91.4h.5V83.8h.5V85.2h.5V86.5h.5V90.3h.5V88.3h.5V72.5h.5V69.7h.5V72.5h.5V91.3h.5V89.6h.5V90.5h.5V97h.5V93.2h.5V86.2h.5V85.8h.5V79.8h.5V87.5h.5V83.6h.5V80.9h.5V96.2h.5V90.9h.5V96.8h.5V93.3h.5V91.4h.5V93.1h.5V87.5h.5V90.4h.5V93.4h.5V91.5h.5V88h.5V88h.5V80.3h.5V77.5h.5V87.9h.5V80h.5V83.5h.5V90.3h.5V88.5h.5V90.4h.5V85.4h.5V85.7h.5V91.8h.5V94.2h.5V88.1h.5V96h.5V96.9h.5V92.3h.5V90.1h.5V87.4h.5V87.4h.5V96.7h.5V94.4h.5V95.2h.5V82.8h.5V84.4h.5V75.6h.5V82.1h.5V82.1h.5V81.2h.5V89.4h.5V79.7h.5V80.8h.5V81.8h.5V88.1h.5V95.3h.5V97.2h.5V93.3h.5V89.2h.5V100.9h.5V92h.5V92.4h.5V95.5h.5V98h.5V104.8h.5V96.8h.5V104.6h.5V101.2h.5V97.8h.5V99.6h.5V89.6h.5V80.8h.5V88.7h.5V87.7h.5V87.6h.5V93.3h.5V101.4h.5V94.2h.5V95.9h.5V88.9h.5V94.4h.5V92.3h.5V82h.5V95.4h.5V86.3h.5V90.6h.5V92.3h.5V97h.5V97.6h.5V89.7h.5V91.8h.5V78.2h.5V88.6h.5V90.9h.5V88.9h.5V91.8h.5V86.3h.5V96.4h.5V90.3h.5V98.6h.5V88.7h.5V86.3h.5V87.3h.5V87.6h.5V84.7h.5V82.3h.5V88.6h.5V87.7h.5V84h.5V94.2h.5V80.4h.5V97.6h.5V96.5h.5V90.6h.5V97.9h.5V96.9h.5V98.6h.5V84.2h.5V82.3h.5V93h.5V87.9h.5V92h.5V100.4h.5V96.8h.5V91.5h.5V93.7h.5V96.1h.5V88.8h.5V94.3h.5V91.2h.5V94h.5V85h.5V90.8h.5V98.5h.5V102.8h.5V102h.5V100.3h.5V103.5h.5V100.5h.5V97.4h.5V200.1h-.5V195.1h-.5V195.1h-.5V193h-.5V197.6h-.5V202h-.5V199.7h-.5V191.9h-.5V193.7h-.5V196.3h-.5V190.9h-.5V190.3h-.5V195.5h-.5V194.6h-.5V195.2h-.5V196.9h-.5V201.1h-.5V202.8h-.5V202.3h-.5V200.8h-.5V204.7h-.5V201.3h-.5V198.9h-.5V212.5h-.5V215.3h-.5V212.5h-.5V197.6h-.5V197h-.5V196.3h-.5V201.5h-.5V195.6h-.5V201.3h-.5V192.3h-.5V198h-.5V196.8h-.5V194h-.5V197.3h-.5V194.7h-.5V200.6h-.5V197.7h-.5V203.8h-.5V197.9h-.5V201.2h-.5V199.4h-.5V199.2h-.5V196.4h-.5V199.6h-.5V198.6h-.5V197.3h-.5V197.7h-.5V204.4h-.5V199.1h-.5V199.7h-.5V207.6h-.5V196.9h-.5V197.2h-.5V198.8h-.5V199.5h-.5V198.9h-.5V195h-.5V203.3h-.5V203.3h-.5V194.3h-.5V194h-.5V206.3h-.5V204.3h-.5V210.8h-.5V211.7h-.5V214.3h-.5V211.7h-.5V194.8h-.5V199.2h-.5V201.8h-.5V202.7h-.5V197.3h-.5V196.9h-.5V202.4h-.5V202.2h-.5V200.7h-.5V187.8h-.5V193h-.5V190.2h-.5V193.6h-.5V187.9h-.5V203.5h-.5V198.6h-.5V198.4h-.5V207.5h-.5V196.1h-.5V196.9h-.5V197.6h-.5V196.3h-.5V203.5h-.5V208.9h-.5V197.3h-.5V204.1h-.5V200.4h-.5V207.5h-.5V208.4h-.5V211.1h-.5V212.3h-.5V211h-.5V207.3h-.5V202.4h-.5V205.1h-.5V207.6h-.5V218.1h-.5V221.3h-.5V218h-.5V206.9h-.5V197.7h-.5V199.6h-.5V197.4h-.5V200.9h-.5V197h-.5V201.3h-.5V207.8h-.5V200.2h-.5V199h-.5V198.7h-.5V198h-.5V196.4h-.5V200.5h-.5V197.5h-.5V206h-.5V194.7h-.5V198.6h-.5V200.9h-.5V196.9h-.5V203.1h-.5V200.9h-.5V197h-.5V196.7h-.5V198.3h-.5V198.1h-.5V195.1h-.5V191.5h-.5V189.5h-.5V189.6h-.5V193.1h-.5V197.3h-.5V196.4h-.5V193.3h-.5V193.1h-.5V197.3h-.5V194.7h-.5V201.4h-.5V201.8h-.5V200.8h-.5V207h-.5V199h-.5V203.6h-.5V188.9h-.5V184h-.5V184.9h-.5V186.8h-.5V184.1h-.5V188.1h-.5V199.8h-.5V199.3h-.5V191.1h-.5V193.2h-.5V198.4h-.5V194.7h-.5V190.9h-.5V195.3h-.5V196.7h-.5V187h-.5V188.4h-.5V190.8h-.5V197.3h-.5V194.2h-.5V191.7h-.5V193.3h-.5V191.8h-.5V205.5h-.5V208.3h-.5V205.5h-.5V196.2h-.5V191.4h-.5V197h-.5V189.2h-.5V189.8h-.5V187.6h-.5V191h-.5V190.1h-.5V192.1h-.5V190.6h-.5V192.2h-.5V203.1h-.5V205.3h-.5V203.1h-.5V196.2h-.5V188.7h-.5V196.2h-.5V186.2h-.5V187.5h-.5V191.2h-.5V188.3h-.5V186.7h-.5V200.2h-.5V203.3h-.5V200.9h-.5V199.1h-.5V202.7h-.5V194.5h-.5V190.2h-.5V186.9h-.5V189.5h-.5V187.5h-.5V183h-.5V192.2h-.5V191.9h-.5V196.7h-.5V193.1h-.5V190.7h-.5V199.9h-.5V190.2h-.5V185.7h-.5V191.9h-.5V184.3h-.5V193.5h-.5V194.5h-.5V195.5h-.5V192.7h-.5V192.4h-.5V190.9h-.5V199.2h-.5V193h-.5V195.7h-.5V195.2h-.5V196.6h-.5V194.4h-.5V193.1h-.5V185h-.5V185.8h-.5V183.3h-.5V184.2h-.5V190.2h-.5V194.1h-.5V193.2h-.5V191.7h-.5V183.7h-.5V187h-.5V194.9h-.5V187.6h-.5V186.4h-.5V186.1h-.5V191h-.5V186h-.5V195.1h-.5V189.9h-.5V191.6h-.5V192.9h-.5V191.1h-.5V188.5h-.5V182.1h-.5V183.1h-.5V186h-.5V184.6h-.5V193.5h-.5V188.3h-.5V195.9h-.5V196.8h-.5V200.3h-.5V202h-.5V196.9h-.5V199.3h-.5V187.5h-.5V187.3h-.5V190.8h-.5V195.3h-.5V187.4h-.5V192.7h-.5V199.1h-.5V197.9h-.5V204.9h-.5V189.6h-.5V196.7h-.5V190.3h-.5V188.9h-.5V187.4h-.5V193.4h-.5V205.6h-.5V208.3h-.5V205.6h-.5V191.4h-.5V194.5h-.5V202.9h-.5V193.6h-.5V174h-.5V174h-.5V174h-.5V174h-.5V174h-.5V193.7h-.5V195h-.5V192.8h-.5V201.2h-.5V191.8h-.5V195.4h-.5V195.2h-.5V195.4h-.5V192h-.5V203h-.5V190h-.5V186.9h-.5V186.9h-.5V184.1h-.5V193.4h-.5V195.2h-.5V192.9h-.5V197.1h-.5V195.6h-.5V188.1h-.5V189.3h-.5V187.8h-.5V187.4h-.5V196.9h-.5V193.4h-.5V191.4h-.5V192.8h-.5V190.2h-.5V191.2h-.5V188.4h-.5V179.7h-.5V182.2h-.5V190h-.5V182.8h-.5V193.8h-.5V191.5h-.5V197.5h-.5V193.7h-.5V198.5h-.5V188.2h-.5V191h-.5V186.9h-.5V191.5h-.5V192.2h-.5V192.7h-.5V185h-.5V185.8h-.5V186.7h-.5V196.1h-.5V194.7h-.5V193.5h-.5V193.1h-.5V201.8h-.5V199.4h-.5V195.2h-.5V191.6h-.5V193.1h-.5V196h-.5V195h-.5V195h-.5V196.2h-.5V193.6h-.5V190.8h-.5V190.9h-.5V190.4h-.5V188.3h-.5V196.3h-.5V191.5h-.5V196.8h-.5V194h-.5V195h-.5V195.8h-.5V188.5h-.5V190h-.5V186.5h-.5V187.8h-.5V197.4h-.5V191.8h-.5V190.5h-.5V189.9h-.5V195.6h-.5V196.9h-.5V200.6h-.5V201h-.5V188h-.5V202.5h-.5V210.5h-.5V218.3h-.5V210.7h-.5V203.4h-.5V212.1h-.5V220.1h-.5V224.8h-.5V226.3h-.5V224.8h-.5V220.4h-.5V213.1h-.5V208.7h-.5V205.6h-.5V198.4h-.5V199.1h-.5V205.4h-.5V205.2h-.5V203.2h-.5V208.3h-.5V206.2h-.5V205h-.5V196.2h-.5V198.4h-.5V198h-.5V202.2h-.5V200.8h-.5V201.2h-.5V200.4h-.5V195.7h-.5V198.9h-.5V198.5h-.5V199.6h-.5V195.1h-.5V195.2h-.5V191.4h-.5V194h-.5V188.5h-.5V188.2h-.5V184.5h-.5V190.2h-.5V191.3h-.5V194.5h-.5V201.3h-.5V206.5h-.5V210.8h-.5V204.4h-.5V201.7h-.5V201.8h-.5V204.2h-.5V204.5h-.5V202.2h-.5V205.3h-.5V207.5h-.5V205.1h-.5V199.5h-.5V200h-.5V199h-.5V199.7h-.5V201.9h-.5V203.3h-.5V202.3h-.5V201h-.5V203.2h-.5V199.2h-.5V199.4h-.5V199.1h-.5V187.5h-.5V188.5h-.5V188.5h-.5V194.8h-.5V196.2h-.5V192.3h-.5V204.2h-.5V200.5h-.5V198.8h-.5V199.1h-.5V204.7h-.5V210.1h-.5V191.3h-.5V195.4h-.5V196.8h-.5V191.9h-.5V195.1h-.5V187.9h-.5V188.5h-.5V189.1h-.5V184.4h-.5V203.1h-.5V203.7h-.5V194.9h-.5V199.9h-.5V206.6h-.5V201.8h-.5V209.1h-.5V205h-.5V200.5h-.5V196.7h-.5V198.4h-.5V195.7h-.5V198.2h-.5V195.1h-.5V195.3h-.5V191h-.5V193.2h-.5V191.9h-.5Z" fill="#0000ff" stroke="#0000ff" stroke-width="1.39" stroke-linejoin="miter"/>
<line x1="727.5" y1="98.0" x2="727.5" y2="108.0" stroke="#fff" stroke-width="0.4"/>
<line x1="727.5" y1="108.0" x2="727.5" y2="206.0" stroke="#fff" stroke-width="1.0"/>
<line x1="542.7" y1="119.0" x2="542.7" y2="123.0" stroke="#008000" stroke-width="1.4"/>
<line x1="552.0" y1="125.6" x2="552.0" y2="138.0" stroke="#008000" stroke-width="1.4"/>
<line x1="561.3" y1="100.0" x2="561.3" y2="142.0" stroke="#008000" stroke-width="1.8"/>
<line x1="577.8" y1="118.0" x2="577.8" y2="152.5" stroke="#008000" stroke-width="1.4"/>
<line x1="585.0" y1="104.0" x2="585.0" y2="161.5" stroke="#008000" stroke-width="1.6"/>
<line x1="605.0" y1="104.0" x2="605.0" y2="148.0" stroke="#008000" stroke-width="1.4"/>
<line x1="608.8" y1="98.5" x2="608.8" y2="150.0" stroke="#008000" stroke-width="1.8"/>
<line x1="650.4" y1="106.0" x2="650.4" y2="125.0" stroke="#008000" stroke-width="1.4"/>
<line x1="660.2" y1="90.5" x2="660.2" y2="144.5" stroke="#008000" stroke-width="1.4"/>
<line x1="667.2" y1="72.5" x2="667.2" y2="187.5" stroke="#008000" stroke-width="2.6"/>
<line x1="676.6" y1="110.0" x2="676.6" y2="154.0" stroke="#008000" stroke-width="1.6"/>
<line x1="689.0" y1="117.0" x2="689.0" y2="139.0" stroke="#008000" stroke-width="1.4"/>
<line x1="709.5" y1="89.0" x2="709.5" y2="135.0" stroke="#008000" stroke-width="1.6"/>
<line x1="717.7" y1="143.5" x2="717.7" y2="155.0" stroke="#008000" stroke-width="1.4"/>
<line x1="722.0" y1="100.0" x2="722.0" y2="166.5" stroke="#008000" stroke-width="1.8"/>
<line x1="725.2" y1="114.0" x2="725.2" y2="179.0" stroke="#008000" stroke-width="1.6"/>
<line x1="733.4" y1="120.0" x2="733.4" y2="162.5" stroke="#008000" stroke-width="1.4"/>
<line x1="746.7" y1="122.5" x2="746.7" y2="177.5" stroke="#008000" stroke-width="1.6"/>
<line x1="756.2" y1="123.5" x2="756.2" y2="154.0" stroke="#008000" stroke-width="1.4"/>
<line x1="765.4" y1="116.0" x2="765.4" y2="149.0" stroke="#008000" stroke-width="1.4"/>
</g>
<path d="M498.5,232.5v-6.1M498.5,50.5v6.1M534.5,232.5v-6.1M534.5,50.5v6.1M569.5,232.5v-6.1M569.5,50.5v6.1M605.5,232.5v-6.1M605.5,50.5v6.1M641.5,232.5v-6.1M641.5,50.5v6.1M676.5,232.5v-6.1M676.5,50.5v6.1M712.5,232.5v-6.1M712.5,50.5v6.1M747.5,232.5v-6.1M747.5,50.5v6.1M783.5,232.5v-6.1M783.5,50.5v6.1M498.5,232.5h6.1M783.5,232.5h-6.1M498.5,186.5h6.1M783.5,186.5h-6.1M498.5,141.5h6.1M783.5,141.5h-6.1M498.5,95.5h6.1M783.5,95.5h-6.1M498.5,50.5h6.1M783.5,50.5h-6.1" stroke="#000" stroke-width="0.7" fill="none"/>
<rect x="498.5" y="50.5" width="285.0" height="182.0" fill="none" stroke="#000" stroke-width="1.39"/>
<text class="t" text-anchor="middle" transform="translate(498.16,244.00) scale(0.960,1)">0.00</text>
<text class="t" text-anchor="middle" transform="translate(533.78,244.00) scale(0.960,1)">0.01</text>
<text class="t" text-anchor="middle" transform="translate(569.39,244.00) scale(0.960,1)">0.02</text>
<text class="t" text-anchor="middle" transform="translate(605.01,244.00) scale(0.960,1)">0.03</text>
<text class="t" text-anchor="middle" transform="translate(640.62,244.00) scale(0.960,1)">0.04</text>
<text class="t" text-anchor="middle" transform="translate(676.24,244.00) scale(0.960,1)">0.05</text>
<text class="t" text-anchor="middle" transform="translate(711.86,244.00) scale(0.960,1)">0.06</text>
<text class="t" text-anchor="middle" transform="translate(747.47,244.00) scale(0.960,1)">0.07</text>
<text class="t" text-anchor="middle" transform="translate(783.09,244.00) scale(0.960,1)">0.08</text>
<text class="t" text-anchor="end" transform="translate(783.49,258.02) scale(0.960,1)">+5.667432e4</text>
<text class="t" text-anchor="end" transform="translate(493.56,234.00) scale(0.960,1)">0.25</text>
<text class="t" text-anchor="end" transform="translate(493.56,189.00) scale(0.960,1)">0.30</text>
<text class="t" text-anchor="end" transform="translate(493.56,143.00) scale(0.960,1)">0.35</text>
<text class="t" text-anchor="end" transform="translate(493.56,98.00) scale(0.960,1)">0.40</text>
<text class="t" text-anchor="end" transform="translate(493.56,52.00) scale(0.960,1)">0.45</text>
<text class="ti" text-anchor="middle" transform="translate(640.62,43.00) scale(0.890,1)">Q1</text>
<text class="t" text-anchor="middle" transform="translate(465.16,141.41) rotate(-90) scale(0.960,1)">Q1</text>
</g>
<g>
<clipPath id="c20"><rect x="840.07" y="50.00" width="284.93" height="181.82"/></clipPath>
<g clip-path="url(#c20)">
<path d="M874.35,107.4h.5V104.8h.5V107.2h.5V104.1h.5V104.8h.5V107.7h.5V106.4h.5V106.7h.5V109.9h.5V106.9h.5V106.4h.5V105.6h.5V102.5h.5V104.1h.5V106.3h.5V107.1h.5V112.8h.5V108.5h.5V109.5h.5V110.1h.5V111h.5V110.4h.5V95.9h.5V93.7h.5V95.9h.5V109.7h.5V109.6h.5V106.6h.5V109h.5V110h.5V108.6h.5V106.5h.5V105.5h.5V103.9h.5V106h.5V106.1h.5V104.3h.5V109.9h.5V109.6h.5V107.6h.5V107.3h.5V107.5h.5V107h.5V107.9h.5V103.1h.5V101h.5V101.9h.5V103.5h.5V104.5h.5V99.5h.5V106.3h.5V105.3h.5V103h.5V104.9h.5V106.6h.5V104.4h.5V104.5h.5V101.2h.5V104.4h.5V104.9h.5V97.6h.5V103.2h.5V103.9h.5V98.9h.5V98.7h.5V105.2h.5V109h.5V103.6h.5V103.2h.5V107h.5V107.7h.5V106.4h.5V103h.5V109.1h.5V107.8h.5V106.5h.5V106.1h.5V104.6h.5V105.6h.5V103.3h.5V109.2h.5V109.7h.5V107.3h.5V108.3h.5V96.9h.5V95.7h.5V96.9h.5V107h.5V96.1h.5V94.7h.5V96.1h.5V106.8h.5V106.2h.5V101h.5V104.2h.5V102.8h.5V100.4h.5V103.5h.5V94h.5V83.7h.5V80.3h.5V83.7h.5V94h.5V101.7h.5V97.9h.5V100.5h.5V97.3h.5V94.2h.5V98.4h.5V102.6h.5V106.1h.5V103.6h.5V103.9h.5V101.5h.5V101.1h.5V98.3h.5V101h.5V97h.5V101.5h.5V103.7h.5V101h.5V104.7h.5V101.6h.5V102.1h.5V104.2h.5V109.8h.5V108.8h.5V102.2h.5V109.1h.5V107.4h.5V105.2h.5V105.9h.5V102.6h.5V100.6h.5V106.6h.5V107.8h.5V101.9h.5V104.1h.5V105.1h.5V105.8h.5V107.5h.5V103.4h.5V105h.5V103.7h.5V99.9h.5V104.1h.5V98.9h.5V106.6h.5V101.9h.5V101.9h.5V98.3h.5V106.7h.5V99.8h.5V99.5h.5V99.2h.5V100h.5V101h.5V96.2h.5V104.6h.5V106.5h.5V102.4h.5V104.1h.5V106.9h.5V103.2h.5V106.7h.5V102.7h.5V104.2h.5V106.7h.5V107h.5V107.7h.5V106.9h.5V99.4h.5V101.3h.5V96.9h.5V102.6h.5V101.8h.5V101.4h.5V102.4h.5V98.5h.5V105.9h.5V104.9h.5V106.8h.5V107.8h.5V109h.5V111.4h.5V111h.5V110.1h.5V114h.5V114.8h.5V109.6h.5V105.4h.5V114.8h.5V112.1h.5V106.4h.5V109.3h.5V105.9h.5V114.6h.5V108.7h.5V117h.5V114.2h.5V106.5h.5V109.6h.5V109.3h.5V109.3h.5V109.2h.5V106.3h.5V102.8h.5V110h.5V109.5h.5V106.4h.5V108.8h.5V108.1h.5V101.3h.5V99.7h.5V101.3h.5V109.6h.5V107h.5V108.3h.5V103h.5V103h.5V102.5h.5V109.3h.5V106.5h.5V103.8h.5V109.7h.5V111.3h.5V112.1h.5V111.8h.5V109.2h.5V107.9h.5V107.9h.5V109.1h.5V106.2h.5V106.2h.5V112.3h.5V107.9h.5V110.6h.5V110.8h.5V108.9h.5V111.2h.5V110h.5V107.1h.5V115.7h.5V111.9h.5V101.3h.5V99.7h.5V101.3h.5V107.9h.5V108.4h.5V109.3h.5V107h.5V102.6h.5V106.2h.5V101.7h.5V106.1h.5V103.9h.5V104.4h.5V107.4h.5V106.8h.5V108.7h.5V111.3h.5V111.1h.5V108.2h.5V110.6h.5V109.8h.5V109.2h.5V112.3h.5V107.7h.5V102h.5V108h.5V104.4h.5V109h.5V112.1h.5V108.7h.5V109.8h.5V103h.5V101.7h.5V106.5h.5V103.4h.5V104.1h.5V99.7h.5V100.7h.5V100.1h.5V101.8h.5V105.2h.5V103.7h.5V97.7h.5V95.7h.5V97.7h.5V103.5h.5V100.9h.5V109.3h.5V108.7h.5V109.8h.5V108.6h.5V109h.5V110.7h.5V107.5h.5V109.2h.5V106.1h.5V112.1h.5V109.2h.5V97.7h.5V95.7h.5V97.7h.5V98.4h.5V104.6h.5V107.1h.5V95.6h.5V93.1h.5V95.6h.5V103.1h.5V106.2h.5V108.1h.5V100.9h.5V103.3h.5V104.6h.5V105.7h.5V104.6h.5V101.4h.5V107.9h.5V107.7h.5V104.5h.5V109.9h.5V103.7h.5V106.9h.5V109.3h.5V111.3h.5V108.8h.5V108.8h.5V109.8h.5V108.3h.5V110.4h.5V106.8h.5V111.1h.5V113.5h.5V109.3h.5V113.5h.5V104.7h.5V104.2h.5V110h.5V110h.5V107.1h.5V108.6h.5V109.9h.5V107.5h.5V110.1h.5V111.2h.5V108.9h.5V106h.5V103.8h.5V107.1h.5V103.2h.5V105.8h.5V99.1h.5V105.4h.5V107.1h.5V98.7h.5V96.7h.5V98.7h.5V105h.5V107.7h.5V105.3h.5V108.6h.5V107.2h.5V106.2h.5V106.6h.5V106.1h.5V102.4h.5V105.6h.5V105.8h.5V104.3h.5V107.2h.5V105.4h.5V108h.5V105.5h.5V105.6h.5V104.9h.5V105.1h.5V95.5h.5V92.7h.5V95.5h.5V115h.5V108.7h.5V113.2h.5V109.6h.5V108.4h.5V107h.5V106.2h.5V110.9h.5V106.7h.5V104.9h.5V103.8h.5V104.9h.5V109.1h.5V106.2h.5V100.3h.5V98.7h.5V98.6h.5V105.1h.5V106.5h.5V102.7h.5V99.9h.5V100.7h.5V109.8h.5V109.8h.5V111.6h.5V106.8h.5V110.7h.5V111.7h.5V112.4h.5V105.9h.5V110.6h.5V108.1h.5V112.7h.5V110.3h.5V105.9h.5V105.7h.5V109.2h.5V107.7h.5V106.7h.5V105.1h.5V111.3h.5V108.4h.5V105.6h.5V105.1h.5V103.8h.5V106.8h.5V105.8h.5V109.2h.5V99.5h.5V97.7h.5V99.5h.5V102.9h.5V109h.5V110.5h.5V106h.5V109.7h.5V106.3h.5V109.2h.5V110.4h.5V107.7h.5V108.6h.5V108.3h.5V107.9h.5V107.8h.5V111h.5V111.8h.5V110.9h.5V108.4h.5V110.5h.5V110.8h.5V108.4h.5V108h.5V112h.5V112.4h.5V114.5h.5V105.8h.5V110.4h.5V108.4h.5V108.7h.5V107.9h.5V104.4h.5V110h.5V112.7h.5V111.3h.5V112.7h.5V103.9h.5V100.8h.5V97.7h.5V100.8h.5V103.9h.5V107.4h.5V114.5h.5V107.5h.5V103.9h.5V100.8h.5V97.7h.5V100.8h.5V103.9h.5V109.5h.5V108.5h.5V115.3h.5V107.4h.5V116.1h.5V115.7h.5V111.7h.5V194.1h-.5V190.4h-.5V198h-.5V190.3h-.5V198h-.5V194.5h-.5V193.4h-.5V189.1h-.5V191.3h-.5V185.8h-.5V190.3h-.5V192h-.5V183.9h-.5V186h-.5V188h-.5V187.7h-.5V188.5h-.5V190h-.5V189.7h-.5V193.2h-.5V198.2h-.5V199.8h-.5V198.2h-.5V187.2h-.5V188.4h-.5V196.8h-.5V190.7h-.5V189.4h-.5V184.5h-.5V182.3h-.5V185.6h-.5V185.3h-.5V192.5h-.5V191.3h-.5V190.9h-.5V190h-.5V193h-.5V195.9h-.5V193.3h-.5V197.1h-.5V199.4h-.5V190.4h-.5V193.3h-.5V195.4h-.5V192.3h-.5V193.7h-.5V190.4h-.5V191.4h-.5V198.6h-.5V200.3h-.5V198.6h-.5V188.8h-.5V188.5h-.5V187.9h-.5V190.2h-.5V191.2h-.5V190h-.5V190.4h-.5V191.3h-.5V188.8h-.5V190.2h-.5V197.9h-.5V191.7h-.5V193.4h-.5V191.3h-.5V191.2h-.5V192.8h-.5V198h-.5V193h-.5V195.4h-.5V184.6h-.5V185.5h-.5V192.1h-.5V190.5h-.5V190.9h-.5V195.3h-.5V192.8h-.5V195h-.5V194.2h-.5V186h-.5V193.3h-.5V189.6h-.5V193.3h-.5V187.8h-.5V184.8h-.5V187.4h-.5V185.7h-.5V194.7h-.5V196.7h-.5V195h-.5V194.3h-.5V197.5h-.5V193.1h-.5V195.1h-.5V186.5h-.5V188.3h-.5V192h-.5V188.2h-.5V188.4h-.5V187.7h-.5V198.5h-.5V195.5h-.5V193.1h-.5V192h-.5V191h-.5V196.9h-.5V195.1h-.5V194.6h-.5V192.3h-.5V193.7h-.5V199.2h-.5V195h-.5V194.8h-.5V198.3h-.5V197.1h-.5V199.4h-.5V199.1h-.5V200.8h-.5V202.3h-.5V200.8h-.5V195.6h-.5V192.2h-.5V192.5h-.5V194.9h-.5V197.9h-.5V195.1h-.5V192.4h-.5V190.7h-.5V200.7h-.5V202.3h-.5V200.7h-.5V189.7h-.5V189.6h-.5V195.5h-.5V190.1h-.5V191h-.5V186.7h-.5V193.5h-.5V193.3h-.5V190.8h-.5V199.9h-.5V201.3h-.5V199.9h-.5V191.9h-.5V191.9h-.5V194.1h-.5V192h-.5V198.1h-.5V194.7h-.5V194h-.5V198.2h-.5V194.3h-.5V191h-.5V194.4h-.5V196.8h-.5V193.6h-.5V189.7h-.5V194.9h-.5V196.5h-.5V189.4h-.5V189.2h-.5V192.8h-.5V189h-.5V189.2h-.5V189.7h-.5V184.6h-.5V192.6h-.5V191h-.5V193h-.5V190.7h-.5V189.1h-.5V187.9h-.5V191.2h-.5V188.6h-.5V191h-.5V191.7h-.5V188.1h-.5V190.3h-.5V189.1h-.5V189.3h-.5V194.1h-.5V194.3h-.5V192.4h-.5V191.7h-.5V191.7h-.5V192.6h-.5V197.8h-.5V192.5h-.5V193.5h-.5V188.8h-.5V187.9h-.5V193.6h-.5V189.1h-.5V183.5h-.5V182.8h-.5V186.9h-.5V183.4h-.5V181.5h-.5V186.7h-.5V193h-.5V193.9h-.5V196.9h-.5V192.4h-.5V187.9h-.5V190.1h-.5V189.2h-.5V191.2h-.5V188.8h-.5V182h-.5V189.1h-.5V184.9h-.5V184.4h-.5V186.7h-.5V190.7h-.5V192h-.5V184.8h-.5V188.7h-.5V188.2h-.5V188.6h-.5V192.1h-.5V186.7h-.5V188.6h-.5V188.3h-.5V191.6h-.5V186.7h-.5V183h-.5V185.9h-.5V183.7h-.5V188.1h-.5V187.1h-.5V187.2h-.5V185.2h-.5V183.7h-.5V183.1h-.5V189.8h-.5V194.1h-.5V191.6h-.5V188.7h-.5V198.5h-.5V200.3h-.5V198.5h-.5V187.5h-.5V186.7h-.5V193.1h-.5V190.2h-.5V190.6h-.5V187.1h-.5V191.1h-.5V192.4h-.5V191h-.5V191.5h-.5V186.2h-.5V184.9h-.5V184.5h-.5V189.5h-.5V187.4h-.5V186.3h-.5V189.3h-.5V193.1h-.5V193.2h-.5V190.6h-.5V191.2h-.5V193.1h-.5V183.7h-.5V184h-.5V185.5h-.5V183.6h-.5V191.3h-.5V190.4h-.5V188.8h-.5V190h-.5V191.1h-.5V192.1h-.5V188.6h-.5V189.6h-.5V191.2h-.5V190.7h-.5V189.2h-.5V187.2h-.5V189h-.5V190.4h-.5V188.5h-.5V190.6h-.5V191.7h-.5V186.4h-.5V187.7h-.5V188.8h-.5V184.4h-.5V185.4h-.5V188.5h-.5V187h-.5V181h-.5V181h-.5V181h-.5V181h-.5V191.7h-.5V198.5h-.5V200.3h-.5V198.5h-.5V193.8h-.5V189h-.5V190h-.5V187.4h-.5V187.8h-.5V190.1h-.5V190.4h-.5V194.8h-.5V189h-.5V189.9h-.5V190.1h-.5V192.5h-.5V190.6h-.5V195.2h-.5V191.7h-.5V191h-.5V193.7h-.5V193.6h-.5V191.1h-.5V192h-.5V191.2h-.5V193.3h-.5V187.8h-.5V188.1h-.5V189h-.5V188.8h-.5V187.9h-.5V188.5h-.5V188.5h-.5V187.1h-.5V192.9h-.5V190.4h-.5V189.8h-.5V195.6h-.5V192h-.5V193.3h-.5V188.5h-.5V190.3h-.5V190.8h-.5V184.4h-.5V185.7h-.5V190.3h-.5V184h-.5V186.4h-.5V182.6h-.5V186.2h-.5V184.9h-.5V184.8h-.5V185.4h-.5V182.4h-.5V183.5h-.5V188.4h-.5V183.1h-.5V189.4h-.5V187.2h-.5V185.1h-.5V188h-.5V186.7h-.5V184.5h-.5V184h-.5V182.9h-.5V189.1h-.5V184.9h-.5V185.7h-.5V188.5h-.5V188.4h-.5V191.3h-.5V187.2h-.5V186.7h-.5V182.7h-.5V189.8h-.5V182.7h-.5V185.6h-.5V184h-.5V181h-.5V182.9h-.5V184.4h-.5V187.3h-.5V190.2h-.5V188.5h-.5V192.2h-.5V190h-.5V184.8h-.5V183.3h-.5V180.1h-.5V175.5h-.5V178.5h-.5V175.9h-.5V174.5h-.5V175.9h-.5V177.6h-.5V173.5h-.5V176.6h-.5V178.5h-.5V178.5h-.5V181.9h-.5V183.8h-.5V183.8h-.5V185.4h-.5V181.5h-.5V185.3h-.5V185.8h-.5V184.9h-.5V188.9h-.5V187.7h-.5V186.3h-.5V191.4h-.5V188.1h-.5V187.8h-.5V187.8h-.5V187h-.5V187.7h-.5V187.9h-.5V191.5h-.5V189.8h-.5V190.5h-.5V190.9h-.5V196.4h-.5V190.4h-.5V187.7h-.5V188h-.5V189.6h-.5V190.3h-.5V189.7h-.5V190.8h-.5V189.7h-.5V193h-.5V189h-.5V189.9h-.5V197.5h-.5V199.3h-.5V197.5h-.5V184.7h-.5V184.1h-.5V183.4h-.5V184.7h-.5V182.9h-.5V188.9h-.5V195.4h-.5V190.9h-.5V187.7h-.5V190h-.5V196.6h-.5V189.4h-.5V189.9h-.5V189.1h-.5V189h-.5V190.4h-.5V192h-.5V187.8h-.5V187.5h-.5V183.8h-.5V185.7h-.5V184.8h-.5V187.9h-.5V196.6h-.5V198.3h-.5V196.6h-.5V183.1h-.5V185.3h-.5V185.1h-.5V186h-.5V187.9h-.5V184h-.5V185.6h-.5V189h-.5V189.9h-.5V186.4h-.5V186.6h-.5V186.9h-.5V188.2h-.5V186.6h-.5V187.2h-.5V185.3h-.5V187.2h-.5V195.8h-.5V197.3h-.5V195.8h-.5V190.4h-.5V187.9h-.5V191.5h-.5V192.8h-.5V189.8h-.5V188.2h-.5V185.1h-.5V188.2h-.5V183h-.5V184.2h-.5Z" fill="#0000ff" stroke="#0000ff" stroke-width="1.39" stroke-linejoin="miter"/>
<polygon points="919.4,189.5 919.4,180.0 923.5,179.0 921.0,185.0" fill="#008000"/>
<line x1="1069.5" y1="112.0" x2="1069.5" y2="133.0" stroke="#fff" stroke-width="1.0"/>
<line x1="1069.5" y1="133.0" x2="1069.5" y2="172.0" stroke="#fff" stroke-width="0.3"/>
<line x1="1069.5" y1="172.0" x2="1069.5" y2="201.0" stroke="#fff" stroke-width="1.0"/>
<line x1="884.6" y1="158.0" x2="884.6" y2="164.0" stroke="#008000" stroke-width="1.4"/>
<line x1="893.9" y1="154.0" x2="893.9" y2="170.0" stroke="#008000" stroke-width="1.4"/>
<line x1="903.2" y1="137.0" x2="903.2" y2="186.0" stroke="#008000" stroke-width="2.0"/>
<line x1="919.7" y1="154.0" x2="919.7" y2="189.0" stroke="#008000" stroke-width="1.6"/>
<line x1="926.9" y1="127.0" x2="926.9" y2="187.0" stroke="#008000" stroke-width="2.0"/>
<line x1="946.9" y1="156.0" x2="946.9" y2="179.0" stroke="#008000" stroke-width="1.4"/>
<line x1="950.7" y1="147.0" x2="950.7" y2="172.0" stroke="#008000" stroke-width="2.2"/>
<line x1="992.3" y1="155.6" x2="992.3" y2="167.0" stroke="#008000" stroke-width="1.4"/>
<line x1="1002.1" y1="160.0" x2="1002.1" y2="172.0" stroke="#008000" stroke-width="1.4"/>
<line x1="1009.1" y1="112.0" x2="1009.1" y2="188.0" stroke="#008000" stroke-width="2.8"/>
<line x1="1018.5" y1="130.0" x2="1018.5" y2="154.0" stroke="#008000" stroke-width="1.6"/>
<line x1="1030.9" y1="159.0" x2="1030.9" y2="183.0" stroke="#008000" stroke-width="2.2"/>
<line x1="1051.4" y1="147.6" x2="1051.4" y2="176.0" stroke="#008000" stroke-width="1.6"/>
<line x1="1059.6" y1="157.0" x2="1059.6" y2="164.0" stroke="#008000" stroke-width="1.4"/>
<line x1="1063.9" y1="147.0" x2="1063.9" y2="187.0" stroke="#008000" stroke-width="1.6"/>
<line x1="1067.1" y1="118.0" x2="1067.1" y2="185.0" stroke="#008000" stroke-width="2.0"/>
<line x1="1075.3" y1="167.0" x2="1075.3" y2="182.0" stroke="#008000" stroke-width="2.0"/>
<line x1="1088.6" y1="162.0" x2="1088.6" y2="178.0" stroke="#008000" stroke-width="1.8"/>
<line x1="1098.1" y1="157.6" x2="1098.1" y2="161.6" stroke="#008000" stroke-width="1.4"/>
<line x1="1107.3" y1="161.0" x2="1107.3" y2="173.0" stroke="#008000" stroke-width="1.4"/>
</g>
<path d="M840.5,232.5v-6.1M840.5,50.5v6.1M876.5,232.5v-6.1M876.5,50.5v6.1M911.5,232.5v-6.1M911.5,50.5v6.1M947.5,232.5v-6.1M947.5,50.5v6.1M983.5,232.5v-6.1M983.5,50.5v6.1M1018.5,232.5v-6.1M1018.5,50.5v6.1M1054.5,232.5v-6.1M1054.5,50.5v6.1M1089.5,232.5v-6.1M1089.5,50.5v6.1M1125.5,232.5v-6.1M1125.5,50.5v6.1M840.5,232.5h6.1M1125.5,232.5h-6.1M840.5,202.5h6.1M1125.5,202.5h-6.1M840.5,171.5h6.1M1125.5,171.5h-6.1M840.5,141.5h6.1M1125.5,141.5h-6.1M840.5,111.5h6.1M1125.5,111.5h-6.1M840.5,80.5h6.1M1125.5,80.5h-6.1M840.5,50.5h6.1M1125.5,50.5h-6.1" stroke="#000" stroke-width="0.7" fill="none"/>
<rect x="840.5" y="50.5" width="285.0" height="182.0" fill="none" stroke="#000" stroke-width="1.39"/>
<text class="t" text-anchor="middle" transform="translate(840.07,244.00) scale(0.960,1)">0.00</text>
<text class="t" text-anchor="middle" transform="translate(875.69,244.00) scale(0.960,1)">0.01</text>
<text class="t" text-anchor="middle" transform="translate(911.31,244.00) scale(0.960,1)">0.02</text>
<text class="t" text-anchor="middle" transform="translate(946.92,244.00) scale(0.960,1)">0.03</text>
<text class="t" text-anchor="middle" transform="translate(982.54,244.00) scale(0.960,1)">0.04</text>
<text class="t" text-anchor="middle" transform="translate(1018.15,244.00) scale(0.960,1)">0.05</text>
<text class="t" text-anchor="middle" transform="translate(1053.77,244.00) scale(0.960,1)">0.06</text>
<text class="t" text-anchor="middle" transform="translate(1089.38,244.00) scale(0.960,1)">0.07</text>
<text class="t" text-anchor="middle" transform="translate(1125.00,244.00) scale(0.960,1)">0.08</text>
<text class="t" text-anchor="end" transform="translate(1125.40,258.02) scale(0.960,1)">+5.667432e4</text>
<text class="t" text-anchor="end" transform="translate(835.47,234.00) scale(0.960,1)">−0.80</text>
<text class="t" text-anchor="end" transform="translate(835.47,204.00) scale(0.960,1)">−0.75</text>
<text class="t" text-anchor="end" transform="translate(835.47,174.00) scale(0.960,1)">−0.70</text>
<text class="t" text-anchor="end" transform="translate(835.47,143.00) scale(0.960,1)">−0.65</text>
<text class="t" text-anchor="end" transform="translate(835.47,113.00) scale(0.960,1)">−0.60</text>
<text class="t" text-anchor="end" transform="translate(835.47,83.00) scale(0.960,1)">−0.55</text>
<text class="t" text-anchor="end" transform="translate(835.47,52.00) scale(0.960,1)">−0.50</text>
<text class="ti" text-anchor="middle" transform="translate(982.54,43.00) scale(0.890,1)">U1</text>
<text class="t" text-anchor="middle" transform="translate(801.17,141.41) rotate(-90) scale(0.960,1)">U1</text>
</g>
<g>
<clipPath id="c01"><rect x="156.25" y="268.18" width="284.93" height="181.82"/></clipPath>
<g clip-path="url(#c01)">
<path d="M190.45,307.3h.5V313h.5V311.5h.5V311.3h.5V314.2h.5V315.1h.5V318h.5V320.6h.5V319.2h.5V315.4h.5V313.9h.5V318.8h.5V319.1h.5V318.2h.5V314.4h.5V319.8h.5V318.5h.5V319.2h.5V319.1h.5V317h.5V318.5h.5V317.3h.5V315.4h.5V315.5h.5V317.3h.5V316h.5V317.5h.5V315.6h.5V296.6h.5V292.7h.5V296.6h.5V309.9h.5V313.8h.5V315.4h.5V316.5h.5V316.4h.5V316.7h.5V313.5h.5V315.8h.5V315.6h.5V318.8h.5V317.7h.5V319.9h.5V319h.5V314.7h.5V313.3h.5V314.1h.5V315h.5V309.1h.5V315.1h.5V312.2h.5V313.2h.5V316.6h.5V314.5h.5V308.9h.5V309.7h.5V314.8h.5V313.4h.5V313.9h.5V316.2h.5V315.6h.5V315.4h.5V316.4h.5V313.7h.5V316.2h.5V314.3h.5V319.1h.5V317h.5V319.4h.5V312h.5V309.9h.5V312.6h.5V312.5h.5V312.1h.5V320.2h.5V319.4h.5V318.4h.5V318h.5V319.5h.5V311h.5V311.7h.5V310.6h.5V309.8h.5V311.7h.5V309.8h.5V310.6h.5V313h.5V307.7h.5V314.1h.5V312.1h.5V317.5h.5V318.6h.5V320.7h.5V329.5h.5V327.7h.5V327.1h.5V326h.5V331.1h.5V334.7h.5V336.5h.5V331.5h.5V323.7h.5V315.3h.5V307.6h.5V308.3h.5V309.7h.5V308.3h.5V309h.5V308.9h.5V312.9h.5V310.4h.5V310.3h.5V313.5h.5V313.9h.5V305.4h.5V302.8h.5V300.2h.5V302.8h.5V305.4h.5V309.7h.5V311.2h.5V307.5h.5V303.9h.5V306.1h.5V307h.5V304.3h.5V305.3h.5V312.9h.5V309.5h.5V312.6h.5V309.4h.5V309.9h.5V308.8h.5V307.5h.5V305.8h.5V306.6h.5V308.7h.5V299.9h.5V303.5h.5V310.5h.5V312.9h.5V313.4h.5V306.6h.5V310.6h.5V304.2h.5V305.1h.5V305.4h.5V304.9h.5V308.2h.5V310.3h.5V309.3h.5V307.3h.5V307h.5V312.2h.5V313.4h.5V313.9h.5V315.4h.5V312.8h.5V307.2h.5V308h.5V306.7h.5V302.6h.5V308.5h.5V315h.5V314h.5V312.3h.5V311.8h.5V313.1h.5V307.9h.5V312.2h.5V310.3h.5V310.3h.5V308.8h.5V310.8h.5V305.8h.5V307.6h.5V307.8h.5V312h.5V313.5h.5V313.3h.5V313.2h.5V314.1h.5V312.7h.5V309.8h.5V311.6h.5V310.9h.5V308.5h.5V310.9h.5V310h.5V310.6h.5V310.6h.5V307.8h.5V310.9h.5V309.3h.5V310.8h.5V307.8h.5V309.8h.5V303.9h.5V309.3h.5V308.3h.5V309.1h.5V305.4h.5V306.4h.5V306.8h.5V310.5h.5V309.5h.5V306h.5V312.4h.5V306.5h.5V311.2h.5V309.7h.5V310.4h.5V308.8h.5V313.2h.5V309.8h.5V314.5h.5V312.8h.5V313.7h.5V312.9h.5V308.4h.5V308.9h.5V312.5h.5V312.8h.5V310h.5V309.6h.5V310.5h.5V314.2h.5V312.3h.5V308.1h.5V309.7h.5V307.8h.5V311.1h.5V309h.5V311.5h.5V311h.5V305.1h.5V314.5h.5V314.1h.5V314.5h.5V310.2h.5V312h.5V312.6h.5V309.8h.5V312.6h.5V308.7h.5V309.1h.5V312h.5V312.3h.5V310.8h.5V306.8h.5V304.6h.5V305.7h.5V305h.5V306h.5V311.1h.5V308.4h.5V304.5h.5V310.6h.5V310.1h.5V312.7h.5V313.4h.5V312.2h.5V311.4h.5V310.5h.5V308h.5V307.6h.5V310.1h.5V310.5h.5V313.1h.5V312h.5V312.4h.5V313h.5V311.9h.5V313.9h.5V310.7h.5V308.8h.5V307.6h.5V311.6h.5V316.4h.5V314.8h.5V308h.5V312.3h.5V310.8h.5V308.4h.5V308.2h.5V309.1h.5V306.8h.5V307.6h.5V307.1h.5V312.4h.5V313.5h.5V311.1h.5V306.5h.5V309.6h.5V310.1h.5V313.7h.5V316.1h.5V318.2h.5V318.5h.5V320.8h.5V316.1h.5V319.2h.5V316.7h.5V321.8h.5V316.5h.5V312.6h.5V312h.5V315.6h.5V316.2h.5V313.6h.5V318.2h.5V321h.5V313.3h.5V318.4h.5V319.7h.5V316.6h.5V317.3h.5V316.2h.5V317.1h.5V318.1h.5V316.1h.5V318.5h.5V315.1h.5V318.5h.5V315.6h.5V321.8h.5V317.3h.5V318.7h.5V321.6h.5V312.4h.5V316h.5V317.7h.5V317.5h.5V311.9h.5V315.3h.5V318.7h.5V314.1h.5V320.2h.5V313.7h.5V314.1h.5V312h.5V311.3h.5V305.4h.5V303.1h.5V305.4h.5V315.6h.5V320.1h.5V318.4h.5V318.2h.5V320.3h.5V318.8h.5V320h.5V323.9h.5V318.3h.5V319.6h.5V319.5h.5V322.9h.5V318.8h.5V322.8h.5V320.8h.5V323.5h.5V323.4h.5V320.5h.5V319.5h.5V318.7h.5V320.3h.5V317.5h.5V322.3h.5V322.5h.5V323h.5V321.6h.5V320.8h.5V325h.5V322h.5V317.7h.5V316.8h.5V319.1h.5V318.7h.5V316.1h.5V317.7h.5V311.5h.5V319.5h.5V320.3h.5V321.1h.5V319.4h.5V319.5h.5V320.7h.5V314h.5V320h.5V318.3h.5V319.5h.5V317.9h.5V324.6h.5V314.3h.5V320.9h.5V324h.5V320.9h.5V330.4h.5V327.4h.5V329.9h.5V330.6h.5V324.2h.5V320.3h.5V321.5h.5V317.9h.5V321.2h.5V319.2h.5V319.3h.5V313h.5V322.8h.5V319.9h.5V327.3h.5V332.2h.5V323.5h.5V326.2h.5V322.5h.5V318.6h.5V321.5h.5V319.4h.5V320.5h.5V317h.5V320.8h.5V320h.5V314.5h.5V318.8h.5V316.4h.5V311.1h.5V315h.5V320.3h.5V320.4h.5V316.3h.5V324.1h.5V325.6h.5V324.1h.5V321h.5V325h.5V317.7h.5V320.1h.5V322h.5V318.2h.5V321.7h.5V314.8h.5V315.5h.5V319.5h.5V322.2h.5V319.7h.5V321h.5V317.7h.5V320.7h.5V317.9h.5V319h.5V319.6h.5V317.7h.5V320.5h.5V316.5h.5V321.2h.5V320.2h.5V316.5h.5V320.9h.5V318.2h.5V320.8h.5V318.5h.5V318.4h.5V314.8h.5V312.4h.5V321.1h.5V316h.5V326h.5V326.8h.5V324.3h.5V326.4h.5V318.7h.5V320.3h.5V330.2h.5V318.5h.5V321.7h.5V328.8h.5V324.9h.5V325.7h.5V326.2h.5V322h.5V328.5h.5V324.8h.5V323.6h.5V320.8h.5V320.2h.5V401.7h-.5V405.5h-.5V398.6h-.5V397.2h-.5V394.9h-.5V396.2h-.5V394.9h-.5V401.1h-.5V397.6h-.5V401.4h-.5V405.8h-.5V399h-.5V400.3h-.5V400.6h-.5V405.3h-.5V400.6h-.5V403.3h-.5V403.7h-.5V399.2h-.5V397.9h-.5V398.6h-.5V401h-.5V396.9h-.5V412.1h-.5V414.3h-.5V412.1h-.5V401.8h-.5V398h-.5V402.7h-.5V405.8h-.5V404.1h-.5V406h-.5V404.8h-.5V404.7h-.5V404.8h-.5V401.8h-.5V401.4h-.5V399.3h-.5V405.8h-.5V401.5h-.5V399.6h-.5V398.8h-.5V399.3h-.5V395.1h-.5V392.9h-.5V395h-.5V400.1h-.5V395.9h-.5V404.5h-.5V404.5h-.5V407.3h-.5V405.1h-.5V403h-.5V402.7h-.5V403.3h-.5V405.5h-.5V404.6h-.5V404.2h-.5V402.1h-.5V404.7h-.5V403.7h-.5V404.7h-.5V394.4h-.5V395.5h-.5V393.6h-.5V394.2h-.5V394.8h-.5V411.7h-.5V413.8h-.5V411.7h-.5V401.4h-.5V401.8h-.5V406h-.5V404.8h-.5V401.2h-.5V398.4h-.5V398.9h-.5V400.7h-.5V404.3h-.5V401.6h-.5V403.1h-.5V401.7h-.5V401.6h-.5V402h-.5V405h-.5V409.2h-.5V403h-.5V403.1h-.5V405.2h-.5V407h-.5V405.4h-.5V409.2h-.5V406.5h-.5V403.6h-.5V406.3h-.5V403.1h-.5V406.5h-.5V405.7h-.5V408.8h-.5V409.5h-.5V408.9h-.5V405h-.5V407.3h-.5V409.4h-.5V404.3h-.5V402.5h-.5V416.7h-.5V419.3h-.5V416.6h-.5V404.2h-.5V405.5h-.5V405h-.5V406.4h-.5V412.4h-.5V410.1h-.5V404.5h-.5V405.1h-.5V405.8h-.5V408h-.5V406h-.5V405.1h-.5V405.2h-.5V406.9h-.5V410.9h-.5V404.8h-.5V405.5h-.5V404h-.5V402.6h-.5V402.5h-.5V405.8h-.5V400.7h-.5V400.1h-.5V400.6h-.5V396.7h-.5V399.1h-.5V399.4h-.5V401.2h-.5V400.5h-.5V401.5h-.5V402.4h-.5V403.1h-.5V404.9h-.5V403.3h-.5V405h-.5V403h-.5V405.3h-.5V400.3h-.5V402.6h-.5V400.1h-.5V398.4h-.5V398.9h-.5V398.8h-.5V396.6h-.5V396.9h-.5V394.2h-.5V399.3h-.5V403.8h-.5V398.8h-.5V402.7h-.5V399.3h-.5V400.8h-.5V396.1h-.5V393.1h-.5V393.1h-.5V392.6h-.5V396.3h-.5V394.9h-.5V398.5h-.5V398.4h-.5V396.4h-.5V395.4h-.5V393.2h-.5V393.5h-.5V396.5h-.5V397.2h-.5V405.5h-.5V407.3h-.5V405.5h-.5V390.9h-.5V400h-.5V402.7h-.5V397.9h-.5V397.4h-.5V391.7h-.5V393.3h-.5V390.2h-.5V389.7h-.5V398.6h-.5V397.6h-.5V406.3h-.5V408.3h-.5V406.3h-.5V396.4h-.5V400.4h-.5V401.8h-.5V396.2h-.5V399h-.5V397.1h-.5V397.5h-.5V398.3h-.5V397.1h-.5V398.2h-.5V394.5h-.5V400.3h-.5V391.7h-.5V400.8h-.5V397.9h-.5V399.1h-.5V398.5h-.5V403h-.5V402.6h-.5V400.3h-.5V399.3h-.5V400.5h-.5V398.2h-.5V397.5h-.5V403.3h-.5V404.7h-.5V399.7h-.5V399.2h-.5V400.5h-.5V400.7h-.5V392.8h-.5V396.5h-.5V400.9h-.5V392.3h-.5V393.6h-.5V391.5h-.5V398.2h-.5V392.5h-.5V397h-.5V396h-.5V403.4h-.5V402.7h-.5V401.3h-.5V402.1h-.5V397.7h-.5V399.6h-.5V400h-.5V396.8h-.5V398.1h-.5V395.8h-.5V392.8h-.5V390.7h-.5V392h-.5V395.6h-.5V393h-.5V389.9h-.5V398.2h-.5V398.2h-.5V402.2h-.5V396.8h-.5V396.6h-.5V396.9h-.5V395.2h-.5V395.6h-.5V397.2h-.5V397.2h-.5V395.5h-.5V391.4h-.5V393.9h-.5V395h-.5V391.6h-.5V398.9h-.5V398.4h-.5V394.2h-.5V390.6h-.5V392.3h-.5V390.3h-.5V397.6h-.5V390.5h-.5V391.4h-.5V387.4h-.5V387.7h-.5V391.8h-.5V388h-.5V400.8h-.5V400.9h-.5V403.8h-.5V403h-.5V396h-.5V398.7h-.5V393.4h-.5V406.3h-.5V408.3h-.5V406.3h-.5V397.1h-.5V394.5h-.5V391.2h-.5V395h-.5V382h-.5V382h-.5V382h-.5V382h-.5V382h-.5V393.5h-.5V398.9h-.5V397.7h-.5V391.8h-.5V392.2h-.5V389.5h-.5V391.9h-.5V392.2h-.5V397.2h-.5V392.6h-.5V395.3h-.5V396.8h-.5V393.1h-.5V398.6h-.5V399.9h-.5V397.6h-.5V395.1h-.5V395.4h-.5V397.1h-.5V395.3h-.5V395.9h-.5V397.2h-.5V397.5h-.5V402.7h-.5V400.5h-.5V398.9h-.5V393.7h-.5V394.7h-.5V398.8h-.5V393.8h-.5V394.5h-.5V395.9h-.5V398.1h-.5V395.8h-.5V388.7h-.5V391.4h-.5V393h-.5V389.9h-.5V388.8h-.5V392.4h-.5V397.1h-.5V395.8h-.5V400h-.5V393.5h-.5V395.5h-.5V392.8h-.5V395.3h-.5V390.7h-.5V393.2h-.5V395.4h-.5V395.7h-.5V393.2h-.5V398.8h-.5V395.5h-.5V398.3h-.5V396.2h-.5V394.4h-.5V395.7h-.5V396.9h-.5V396h-.5V396.9h-.5V402.4h-.5V395.7h-.5V403.6h-.5V400.9h-.5V400h-.5V400.1h-.5V395.9h-.5V397.9h-.5V401.5h-.5V397.6h-.5V395.4h-.5V398.5h-.5V397.1h-.5V397.6h-.5V396.4h-.5V399.3h-.5V398.8h-.5V398.5h-.5V394.4h-.5V397.4h-.5V399h-.5V395.1h-.5V395.5h-.5V396.3h-.5V403.6h-.5V409.5h-.5V415.3h-.5V409.6h-.5V406.4h-.5V412.4h-.5V419.4h-.5V423.5h-.5V424.9h-.5V423.6h-.5V419.6h-.5V413.1h-.5V405.8h-.5V400.6h-.5V397.4h-.5V396h-.5V399.9h-.5V401.2h-.5V402.5h-.5V403.6h-.5V399.6h-.5V399.1h-.5V401.8h-.5V402.3h-.5V405.7h-.5V402.1h-.5V401.9h-.5V403.5h-.5V395.6h-.5V397.6h-.5V394.3h-.5V396.5h-.5V394.8h-.5V394.6h-.5V397.8h-.5V403.5h-.5V395.9h-.5V400.5h-.5V399.8h-.5V400.5h-.5V399.2h-.5V400.7h-.5V398.6h-.5V400.3h-.5V401h-.5V405.9h-.5V403.4h-.5V399.1h-.5V402.6h-.5V400.6h-.5V399.6h-.5V392.9h-.5V392.5h-.5V391.6h-.5V397.5h-.5V392.8h-.5V402.7h-.5V405.6h-.5V402.7h-.5V402.1h-.5V403.1h-.5V404.7h-.5V395.5h-.5V395h-.5V395.9h-.5V401.2h-.5V404.7h-.5V400.4h-.5V401.8h-.5V400.7h-.5V399.8h-.5V403.5h-.5V400.6h-.5V399.5h-.5V400h-.5V402.2h-.5V398.5h-.5V399.1h-.5V396h-.5V399.1h-.5V398h-.5V396.9h-.5V404.2h-.5V396.6h-.5V399.6h-.5V393.9h-.5V390.6h-.5V394.1h-.5V390.2h-.5V397h-.5V397.4h-.5V400.9h-.5V397.6h-.5V395.7h-.5V396h-.5V392.9h-.5V400.5h-.5V393.7h-.5V392.6h-.5V392.7h-.5V396.6h-.5V391.9h-.5V391.4h-.5V392h-.5V391.6h-.5V390.6h-.5Z" fill="#0000ff" stroke="#0000ff" stroke-width="1.39" stroke-linejoin="miter"/>
<line x1="385.5" y1="328.0" x2="385.5" y2="411.0" stroke="#fff" stroke-width="1.0"/>
<line x1="200.8" y1="341.0" x2="200.8" y2="347.0" stroke="#008000" stroke-width="1.4"/>
<line x1="210.1" y1="348.0" x2="210.1" y2="357.6" stroke="#008000" stroke-width="1.4"/>
<line x1="219.3" y1="330.0" x2="219.3" y2="359.0" stroke="#008000" stroke-width="2.0"/>
<line x1="235.8" y1="338.6" x2="235.8" y2="366.0" stroke="#008000" stroke-width="1.8"/>
<line x1="243.1" y1="332.4" x2="243.1" y2="375.0" stroke="#008000" stroke-width="1.8"/>
<line x1="263.1" y1="330.4" x2="263.1" y2="362.4" stroke="#008000" stroke-width="1.4"/>
<line x1="266.9" y1="324.4" x2="266.9" y2="365.0" stroke="#008000" stroke-width="1.8"/>
<line x1="308.4" y1="329.0" x2="308.4" y2="347.6" stroke="#008000" stroke-width="1.4"/>
<line x1="318.2" y1="320.0" x2="318.2" y2="359.6" stroke="#008000" stroke-width="1.4"/>
<line x1="325.2" y1="308.0" x2="325.2" y2="391.0" stroke="#008000" stroke-width="2.8"/>
<line x1="334.6" y1="336.0" x2="334.6" y2="367.0" stroke="#008000" stroke-width="1.8"/>
<line x1="347.1" y1="337.0" x2="347.1" y2="355.0" stroke="#008000" stroke-width="2.0"/>
<line x1="367.6" y1="317.0" x2="367.6" y2="352.4" stroke="#008000" stroke-width="1.6"/>
<line x1="375.8" y1="359.0" x2="375.8" y2="371.0" stroke="#008000" stroke-width="1.4"/>
<line x1="380.1" y1="327.0" x2="380.1" y2="379.0" stroke="#008000" stroke-width="1.6"/>
<line x1="383.2" y1="333.6" x2="383.2" y2="387.6" stroke="#008000" stroke-width="1.6"/>
<line x1="391.4" y1="343.0" x2="391.4" y2="374.4" stroke="#008000" stroke-width="1.6"/>
<line x1="404.8" y1="347.0" x2="404.8" y2="385.0" stroke="#008000" stroke-width="1.6"/>
<line x1="414.2" y1="346.0" x2="414.2" y2="370.4" stroke="#008000" stroke-width="1.4"/>
<line x1="423.4" y1="339.0" x2="423.4" y2="363.0" stroke="#008000" stroke-width="1.4"/>
</g>
<path d="M156.5,450.5v-6.1M156.5,268.5v6.1M192.5,450.5v-6.1M192.5,268.5v6.1M227.5,450.5v-6.1M227.5,268.5v6.1M263.5,450.5v-6.1M263.5,268.5v6.1M299.5,450.5v-6.1M299.5,268.5v6.1M334.5,450.5v-6.1M334.5,268.5v6.1M370.5,450.5v-6.1M370.5,268.5v6.1M406.5,450.5v-6.1M406.5,268.5v6.1M441.5,450.5v-6.1M441.5,268.5v6.1M156.5,450.5h6.1M441.5,450.5h-6.1M156.5,420.5h6.1M441.5,420.5h-6.1M156.5,389.5h6.1M441.5,389.5h-6.1M156.5,359.5h6.1M441.5,359.5h-6.1M156.5,329.5h6.1M441.5,329.5h-6.1M156.5,298.5h6.1M441.5,298.5h-6.1M156.5,268.5h6.1M441.5,268.5h-6.1" stroke="#000" stroke-width="0.7" fill="none"/>
<rect x="156.5" y="268.5" width="285.0" height="182.0" fill="none" stroke="#000" stroke-width="1.39"/>
<text class="t" text-anchor="middle" transform="translate(156.25,463.00) scale(0.960,1)">0.00</text>
<text class="t" text-anchor="middle" transform="translate(191.87,463.00) scale(0.960,1)">0.01</text>
<text class="t" text-anchor="middle" transform="translate(227.48,463.00) scale(0.960,1)">0.02</text>
<text class="t" text-anchor="middle" transform="translate(263.10,463.00) scale(0.960,1)">0.03</text>
<text class="t" text-anchor="middle" transform="translate(298.71,463.00) scale(0.960,1)">0.04</text>
<text class="t" text-anchor="middle" transform="translate(334.33,463.00) scale(0.960,1)">0.05</text>
<text class="t" text-anchor="middle" transform="translate(369.94,463.00) scale(0.960,1)">0.06</text>
<text class="t" text-anchor="middle" transform="translate(405.56,463.00) scale(0.960,1)">0.07</text>
<text class="t" text-anchor="middle" transform="translate(441.18,463.00) scale(0.960,1)">0.08</text>
<text class="t" text-anchor="end" transform="translate(441.58,476.20) scale(0.960,1)">+5.667432e4</text>
<text class="t" text-anchor="end" transform="translate(151.65,452.00) scale(0.960,1)">0.25</text>
<text class="t" text-anchor="end" transform="translate(151.65,422.00) scale(0.960,1)">0.30</text>
<text class="t" text-anchor="end" transform="translate(151.65,392.00) scale(0.960,1)">0.35</text>
<text class="t" text-anchor="end" transform="translate(151.65,361.00) scale(0.960,1)">0.40</text>
<text class="t" text-anchor="end" transform="translate(151.65,331.00) scale(0.960,1)">0.45</text>
<text class="t" text-anchor="end" transform="translate(151.65,301.00) scale(0.960,1)">0.50</text>
<text class="t" text-anchor="end" transform="translate(151.65,271.00) scale(0.960,1)">0.55</text>
<text class="ti" text-anchor="middle" transform="translate(298.71,261.18) scale(0.890,1)">Q2</text>
<text class="t" text-anchor="middle" transform="translate(123.25,359.59) rotate(-90) scale(0.960,1)">Q2</text>
</g>
<g>
<clipPath id="c11"><rect x="498.16" y="268.18" width="284.93" height="181.82"/></clipPath>
<g clip-path="url(#c11)">
<path d="M532.45,323.2h.5V325.9h.5V327.7h.5V331.1h.5V330.5h.5V322.8h.5V321.8h.5V328.3h.5V326.5h.5V327.9h.5V334.4h.5V330.9h.5V333h.5V330.9h.5V324.5h.5V327.3h.5V328.5h.5V328.9h.5V327h.5V324.3h.5V325.7h.5V325.4h.5V310.3h.5V306.7h.5V310.3h.5V326h.5V329h.5V325.7h.5V324.1h.5V323.8h.5V328.2h.5V327.2h.5V318.9h.5V324.6h.5V317h.5V325.5h.5V325.8h.5V332.3h.5V327.7h.5V326.3h.5V328.6h.5V328h.5V321.6h.5V319.4h.5V328.1h.5V326h.5V329.5h.5V326.8h.5V329h.5V328.9h.5V325.9h.5V329.5h.5V328.9h.5V331.3h.5V324.5h.5V328.7h.5V330.1h.5V326.3h.5V326h.5V326.7h.5V327.3h.5V327.4h.5V326h.5V328.8h.5V326.7h.5V328.4h.5V326.4h.5V320.5h.5V321.4h.5V324.3h.5V324.3h.5V325h.5V326.2h.5V330.4h.5V322.2h.5V328.2h.5V325.5h.5V324.7h.5V326.1h.5V322.2h.5V327.6h.5V325.4h.5V312.6h.5V310.7h.5V312.6h.5V316.1h.5V321.3h.5V312.5h.5V310.7h.5V312.5h.5V326.4h.5V326.6h.5V325.4h.5V326.3h.5V327.1h.5V326h.5V325.8h.5V310.4h.5V298.6h.5V294.7h.5V298.6h.5V310.1h.5V319.2h.5V320.8h.5V319h.5V320.8h.5V321h.5V319.2h.5V326.3h.5V319.5h.5V322.9h.5V324h.5V323h.5V317.7h.5V323.2h.5V323.8h.5V324.9h.5V323.9h.5V318.5h.5V319.9h.5V322h.5V316.5h.5V323h.5V325.2h.5V322.1h.5V319.8h.5V324.5h.5V328.4h.5V323.9h.5V320.1h.5V323.2h.5V320.6h.5V315.9h.5V323.1h.5V325.9h.5V326h.5V321.4h.5V325.1h.5V322.6h.5V322.6h.5V325.1h.5V321.4h.5V323.5h.5V318.5h.5V321.1h.5V320.6h.5V317.1h.5V317h.5V322.8h.5V326.9h.5V325.3h.5V316.2h.5V313.5h.5V310.7h.5V313.5h.5V316.2h.5V316.9h.5V322.4h.5V324.8h.5V324.5h.5V327h.5V324.3h.5V327.2h.5V314.1h.5V320.3h.5V315.1h.5V320.9h.5V320.9h.5V320.7h.5V319.7h.5V319.7h.5V320.8h.5V322.5h.5V320.1h.5V319.8h.5V322.1h.5V314h.5V321.7h.5V318.1h.5V325.2h.5V329.2h.5V327.6h.5V330.6h.5V332h.5V325.3h.5V331.1h.5V328.3h.5V322.8h.5V318h.5V324.8h.5V333.6h.5V331h.5V330.1h.5V332.8h.5V332.1h.5V329.4h.5V329.8h.5V327.6h.5V324.4h.5V329.6h.5V322.7h.5V329.6h.5V326.6h.5V325.3h.5V321.6h.5V326.7h.5V327.1h.5V322.8h.5V326.9h.5V329.8h.5V327.9h.5V329h.5V326.5h.5V324.9h.5V332.1h.5V330h.5V324.7h.5V328h.5V328.4h.5V331.3h.5V324.7h.5V327.5h.5V327.9h.5V332h.5V331.3h.5V334.7h.5V335.8h.5V336.3h.5V335h.5V331.8h.5V326.4h.5V331.4h.5V329.5h.5V329.6h.5V326.1h.5V332.9h.5V331.6h.5V326.8h.5V332.6h.5V327.2h.5V329.1h.5V330.8h.5V330.4h.5V329.5h.5V311.9h.5V308.7h.5V311.9h.5V328.4h.5V324.1h.5V330.8h.5V320.9h.5V323.2h.5V325.6h.5V323.5h.5V316.2h.5V329.8h.5V327.7h.5V328.4h.5V325.8h.5V330.6h.5V325.6h.5V329.6h.5V323h.5V331.2h.5V330.4h.5V328.2h.5V327.8h.5V326.5h.5V323.9h.5V324.2h.5V324.3h.5V327.6h.5V325.3h.5V314.2h.5V322h.5V322.5h.5V322.9h.5V314.4h.5V321.5h.5V322.5h.5V322.5h.5V332.8h.5V331.7h.5V328.5h.5V331.5h.5V328.4h.5V312.1h.5V309.3h.5V312.1h.5V326.4h.5V323.7h.5V322.8h.5V321.2h.5V325.1h.5V315.7h.5V313.7h.5V315.7h.5V324.7h.5V322.2h.5V322.8h.5V317.2h.5V323.6h.5V323.1h.5V320.2h.5V326.1h.5V328.3h.5V325.9h.5V326.3h.5V311.2h.5V308.1h.5V311.2h.5V320.4h.5V326.2h.5V331.6h.5V336.9h.5V336.2h.5V335.5h.5V332.6h.5V335.5h.5V327.4h.5V327.7h.5V327.2h.5V325.8h.5V330.2h.5V328.6h.5V334.4h.5V331.4h.5V320.4h.5V327.7h.5V329.5h.5V326h.5V324.3h.5V330.5h.5V330.9h.5V329.3h.5V328.9h.5V330.6h.5V330.9h.5V329.1h.5V322.6h.5V328.1h.5V329.9h.5V319.8h.5V327.3h.5V328.2h.5V328.4h.5V329.7h.5V321.4h.5V329h.5V322.5h.5V328.9h.5V332.1h.5V330h.5V329.2h.5V330.4h.5V331.1h.5V326.9h.5V324.7h.5V323.2h.5V333h.5V330.6h.5V332.9h.5V328.3h.5V326.9h.5V332.9h.5V330.7h.5V325.3h.5V322.1h.5V325.6h.5V331.8h.5V328.7h.5V327.2h.5V328.9h.5V329.1h.5V328.5h.5V333.7h.5V330.2h.5V324h.5V309.8h.5V305.7h.5V309.8h.5V330.4h.5V333.1h.5V323.9h.5V323.4h.5V328.5h.5V326.6h.5V328.9h.5V329.3h.5V331.1h.5V325.6h.5V324.2h.5V328h.5V324.2h.5V325.8h.5V328.5h.5V328.2h.5V323.2h.5V330.8h.5V331.1h.5V318.3h.5V316.7h.5V318.3h.5V322h.5V327.5h.5V333.2h.5V331.2h.5V328.5h.5V331.4h.5V328.3h.5V333.3h.5V330.6h.5V329.1h.5V328.6h.5V331.1h.5V331.3h.5V327.3h.5V329.2h.5V326.4h.5V328.1h.5V327.5h.5V329.4h.5V325.2h.5V326.4h.5V325.4h.5V322.8h.5V323.3h.5V326.8h.5V329.6h.5V331h.5V316.7h.5V314.7h.5V316.7h.5V327h.5V325.2h.5V327.1h.5V325.5h.5V327h.5V328.3h.5V325.7h.5V329.8h.5V327h.5V334h.5V331.7h.5V331.4h.5V326.9h.5V330.5h.5V328.7h.5V324.6h.5V327.6h.5V328.6h.5V327.7h.5V325.8h.5V326.3h.5V326.6h.5V329.2h.5V320.2h.5V323.3h.5V321.3h.5V322.6h.5V326.7h.5V325.3h.5V330.5h.5V333.2h.5V328.5h.5V331.3h.5V327.5h.5V323.4h.5V329.1h.5V329h.5V323.9h.5V327.1h.5V326h.5V329.4h.5V320.9h.5V326.7h.5V322.2h.5V323.7h.5V325.7h.5V325.4h.5V323.5h.5V328.5h.5V328.6h.5V329.7h.5V325h.5V325.5h.5V420.6h-.5V421.9h-.5V419.2h-.5V422h-.5V423.4h-.5V419.5h-.5V425.8h-.5V425.4h-.5V423.3h-.5V418.5h-.5V422.2h-.5V424.2h-.5V421.6h-.5V426.5h-.5V422.9h-.5V427.4h-.5V428.8h-.5V428.7h-.5V434.5h-.5V436.8h-.5V438.3h-.5V436.8h-.5V425.2h-.5V430.2h-.5V428.5h-.5V427.7h-.5V431.7h-.5V431h-.5V430.9h-.5V427.5h-.5V431.4h-.5V430.5h-.5V428.6h-.5V428.8h-.5V428h-.5V430.9h-.5V425.5h-.5V430.8h-.5V424.2h-.5V429.4h-.5V421.9h-.5V429.2h-.5V427.7h-.5V428.7h-.5V426.8h-.5V429h-.5V425.1h-.5V442.5h-.5V445.3h-.5V442.5h-.5V424.9h-.5V429.5h-.5V425h-.5V425h-.5V425h-.5V425h-.5V425h-.5V425h-.5V431.7h-.5V433.9h-.5V427.3h-.5V430.2h-.5V425h-.5V424.9h-.5V428.7h-.5V426.4h-.5V427.2h-.5V426h-.5V424.8h-.5V425h-.5V424.3h-.5V433.9h-.5V434.4h-.5V437.8h-.5V439.3h-.5V437.8h-.5V428.3h-.5V432.5h-.5V425.4h-.5V426h-.5V428.8h-.5V425.4h-.5V427.2h-.5V425.3h-.5V428.2h-.5V430h-.5V429.7h-.5V429h-.5V431.3h-.5V427.9h-.5V432.1h-.5V430.7h-.5V432.9h-.5V430.8h-.5V431.7h-.5V435.2h-.5V426.6h-.5V424.4h-.5V427.3h-.5V433.2h-.5V428.1h-.5V427.2h-.5V433h-.5V436.1h-.5V433.4h-.5V433.7h-.5V430.4h-.5V426.9h-.5V427.5h-.5V429.1h-.5V431.8h-.5V432.9h-.5V432.5h-.5V431.3h-.5V432h-.5V432.1h-.5V436.7h-.5V442.9h-.5V441.3h-.5V440.3h-.5V434.7h-.5V435.3h-.5V432.6h-.5V431.1h-.5V432.9h-.5V428.3h-.5V434.5h-.5V439.9h-.5V440.8h-.5V439.9h-.5V427.7h-.5V432h-.5V439.1h-.5V433.9h-.5V432.4h-.5V431.1h-.5V430.6h-.5V431h-.5V432h-.5V439.8h-.5V440.8h-.5V440.5h-.5V432.2h-.5V432.5h-.5V434h-.5V430.7h-.5V433.3h-.5V437.5h-.5V432.4h-.5V429.4h-.5V434.2h-.5V434.4h-.5V431h-.5V433.8h-.5V429.2h-.5V432.4h-.5V433.8h-.5V437.1h-.5V433.3h-.5V433.7h-.5V425.1h-.5V422.5h-.5V433.3h-.5V434.8h-.5V435h-.5V433.9h-.5V433h-.5V432.5h-.5V431.9h-.5V431.9h-.5V435.7h-.5V435.2h-.5V439h-.5V433.6h-.5V432.7h-.5V439.3h-.5V440.3h-.5V439.3h-.5V429.7h-.5V433.1h-.5V437.4h-.5V441.4h-.5V434h-.5V429.4h-.5V428.7h-.5V431.6h-.5V430.1h-.5V430.5h-.5V435.3h-.5V433.5h-.5V433.5h-.5V428.5h-.5V427.3h-.5V423.5h-.5V424.9h-.5V423.8h-.5V428.4h-.5V424.2h-.5V430.8h-.5V430.4h-.5V430.3h-.5V429.9h-.5V427.3h-.5V430.1h-.5V428.5h-.5V428.9h-.5V427.9h-.5V424.1h-.5V431.5h-.5V425h-.5V424.5h-.5V431h-.5V423.1h-.5V436.2h-.5V437.3h-.5V436.2h-.5V426.4h-.5V428.7h-.5V427.2h-.5V436.8h-.5V427.9h-.5V432.5h-.5V429.6h-.5V431.1h-.5V430.6h-.5V427.4h-.5V435.8h-.5V428.6h-.5V423.8h-.5V423.6h-.5V422h-.5V422h-.5V422h-.5V422h-.5V422h-.5V422h-.5V435.9h-.5V438h-.5V439.3h-.5V438h-.5V430.9h-.5V428.9h-.5V430.4h-.5V427.2h-.5V427h-.5V435.7h-.5V425.2h-.5V425h-.5V428.5h-.5V427.1h-.5V427h-.5V426.6h-.5V428.1h-.5V431.4h-.5V428.8h-.5V434.7h-.5V435.9h-.5V428.6h-.5V429.4h-.5V431.6h-.5V432.9h-.5V431h-.5V431.6h-.5V434.7h-.5V434.5h-.5V433.7h-.5V427.4h-.5V432.4h-.5V424.1h-.5V424.7h-.5V427.5h-.5V433.3h-.5V427.8h-.5V428.7h-.5V427.6h-.5V428.7h-.5V426.5h-.5V424.7h-.5V430.9h-.5V429.6h-.5V433.8h-.5V427h-.5V429.8h-.5V427.2h-.5V427.9h-.5V425.4h-.5V428.7h-.5V429.6h-.5V428h-.5V429.7h-.5V417h-.5V417h-.5V417h-.5V417h-.5V417h-.5V441.2h-.5V443.3h-.5V441.2h-.5V434.9h-.5V437.9h-.5V438.9h-.5V438.5h-.5V435.5h-.5V435.2h-.5V440h-.5V433.1h-.5V438.2h-.5V432.1h-.5V421h-.5V421h-.5V421h-.5V421h-.5V421h-.5V421h-.5V432.2h-.5V440.2h-.5V435.1h-.5V429.7h-.5V437.1h-.5V438h-.5V432.4h-.5V429.3h-.5V427.5h-.5V426.3h-.5V425.8h-.5V429.7h-.5V426.6h-.5V431.6h-.5V427.7h-.5V428.5h-.5V433.1h-.5V432.3h-.5V436h-.5V432.7h-.5V431.1h-.5V430.6h-.5V429.2h-.5V423.4h-.5V420.7h-.5V421.8h-.5V426.3h-.5V424.8h-.5V423h-.5V428.4h-.5V419h-.5V418.2h-.5V420.1h-.5V422.7h-.5V426.3h-.5V426.1h-.5V430.9h-.5V423.7h-.5V423.3h-.5V420.7h-.5V427.8h-.5V422.3h-.5V423.9h-.5V423.9h-.5V425.4h-.5V420h-.5V426.6h-.5V421.3h-.5V422.4h-.5V422.5h-.5V424.4h-.5V422.5h-.5V429.1h-.5V418.7h-.5V423.8h-.5V423.1h-.5V419.2h-.5V416.1h-.5V420.4h-.5V425.1h-.5V421h-.5V422.7h-.5V421.1h-.5V420.4h-.5V425.3h-.5V422h-.5V420.3h-.5V418.5h-.5V414.1h-.5V415.5h-.5V411h-.5V411.7h-.5V415.5h-.5V415.5h-.5V415.5h-.5V414.9h-.5V413.5h-.5V415.5h-.5V415.5h-.5V415.5h-.5V421h-.5V427.9h-.5V419.8h-.5V419.9h-.5V420.1h-.5V421.4h-.5V419.7h-.5V425h-.5V430.1h-.5V432.6h-.5V428.8h-.5V429h-.5V427.1h-.5V428.4h-.5V428.2h-.5V430.1h-.5V424.8h-.5V426.9h-.5V426.6h-.5V434.4h-.5V430.2h-.5V428.4h-.5V431.1h-.5V428.6h-.5V426.7h-.5V426.2h-.5V429.8h-.5V422.1h-.5V421.8h-.5V423.8h-.5V425.7h-.5V425.9h-.5V425.1h-.5V434.4h-.5V435.3h-.5V434.4h-.5V427.1h-.5V422.6h-.5V426.8h-.5V425.9h-.5V424.3h-.5V426.7h-.5V429.6h-.5V438.6h-.5V430.4h-.5V430.2h-.5V433.9h-.5V429.6h-.5V434.8h-.5V430.3h-.5V432.5h-.5V431h-.5V430.1h-.5V429.5h-.5V429.4h-.5V428.6h-.5V425.6h-.5V426.9h-.5V423.9h-.5V425.8h-.5V430.8h-.5V426.6h-.5V429.7h-.5V430.6h-.5V432.6h-.5V430.4h-.5V433h-.5V432.2h-.5V429.2h-.5V430.4h-.5V427.2h-.5V429.5h-.5V427.8h-.5V428.3h-.5V424.3h-.5V424.6h-.5V423h-.5V422.1h-.5V429.2h-.5V435.9h-.5V437.3h-.5V435.9h-.5V430.3h-.5V427.2h-.5V425.3h-.5V423.5h-.5V421.8h-.5V421.5h-.5V428.3h-.5V423.3h-.5V423h-.5V425.2h-.5Z" fill="#0000ff" stroke="#0000ff" stroke-width="1.39" stroke-linejoin="miter"/>
<polygon points="577.4,425.0 577.4,415.0 581.5,414.0 579.0,421.0" fill="#008000"/>
<line x1="727.5" y1="328.0" x2="727.5" y2="441.0" stroke="#fff" stroke-width="1.0"/>
<line x1="542.7" y1="386.0" x2="542.7" y2="393.6" stroke="#008000" stroke-width="1.4"/>
<line x1="552.0" y1="383.0" x2="552.0" y2="404.4" stroke="#008000" stroke-width="1.4"/>
<line x1="561.3" y1="364.4" x2="561.3" y2="415.6" stroke="#008000" stroke-width="2.0"/>
<line x1="577.8" y1="378.0" x2="577.8" y2="425.0" stroke="#008000" stroke-width="1.6"/>
<line x1="585.0" y1="348.0" x2="585.0" y2="421.0" stroke="#008000" stroke-width="2.0"/>
<line x1="605.0" y1="388.0" x2="605.0" y2="408.0" stroke="#008000" stroke-width="1.4"/>
<line x1="608.8" y1="373.0" x2="608.8" y2="404.0" stroke="#008000" stroke-width="2.4"/>
<line x1="650.4" y1="377.0" x2="650.4" y2="394.4" stroke="#008000" stroke-width="1.4"/>
<line x1="660.2" y1="387.0" x2="660.2" y2="406.4" stroke="#008000" stroke-width="1.4"/>
<line x1="667.2" y1="330.6" x2="667.2" y2="422.4" stroke="#008000" stroke-width="2.8"/>
<line x1="676.6" y1="353.0" x2="676.6" y2="382.0" stroke="#008000" stroke-width="2.0"/>
<line x1="689.0" y1="384.0" x2="689.0" y2="414.4" stroke="#008000" stroke-width="2.4"/>
<line x1="709.5" y1="367.6" x2="709.5" y2="402.0" stroke="#008000" stroke-width="1.6"/>
<line x1="717.7" y1="388.0" x2="717.7" y2="400.0" stroke="#008000" stroke-width="1.4"/>
<line x1="722.0" y1="374.0" x2="722.0" y2="423.6" stroke="#008000" stroke-width="1.8"/>
<line x1="725.2" y1="342.0" x2="725.2" y2="421.0" stroke="#008000" stroke-width="2.0"/>
<line x1="733.4" y1="395.0" x2="733.4" y2="423.0" stroke="#008000" stroke-width="1.6"/>
<line x1="746.7" y1="393.0" x2="746.7" y2="409.6" stroke="#008000" stroke-width="1.8"/>
<line x1="756.2" y1="386.6" x2="756.2" y2="396.0" stroke="#008000" stroke-width="1.4"/>
<line x1="765.4" y1="387.6" x2="765.4" y2="403.6" stroke="#008000" stroke-width="1.4"/>
</g>
<path d="M498.5,450.5v-6.1M498.5,268.5v6.1M534.5,450.5v-6.1M534.5,268.5v6.1M569.5,450.5v-6.1M569.5,268.5v6.1M605.5,450.5v-6.1M605.5,268.5v6.1M641.5,450.5v-6.1M641.5,268.5v6.1M676.5,450.5v-6.1M676.5,268.5v6.1M712.5,450.5v-6.1M712.5,268.5v6.1M747.5,450.5v-6.1M747.5,268.5v6.1M783.5,450.5v-6.1M783.5,268.5v6.1M498.5,450.5h6.1M783.5,450.5h-6.1M498.5,414.5h6.1M783.5,414.5h-6.1M498.5,377.5h6.1M783.5,377.5h-6.1M498.5,341.5h6.1M783.5,341.5h-6.1M498.5,305.5h6.1M783.5,305.5h-6.1M498.5,268.5h6.1M783.5,268.5h-6.1" stroke="#000" stroke-width="0.7" fill="none"/>
<rect x="498.5" y="268.5" width="285.0" height="182.0" fill="none" stroke="#000" stroke-width="1.39"/>
<text class="t" text-anchor="middle" transform="translate(498.16,463.00) scale(0.960,1)">0.00</text>
<text class="t" text-anchor="middle" transform="translate(533.78,463.00) scale(0.960,1)">0.01</text>
<text class="t" text-anchor="middle" transform="translate(569.39,463.00) scale(0.960,1)">0.02</text>
<text class="t" text-anchor="middle" transform="translate(605.01,463.00) scale(0.960,1)">0.03</text>
<text class="t" text-anchor="middle" transform="translate(640.62,463.00) scale(0.960,1)">0.04</text>
<text class="t" text-anchor="middle" transform="translate(676.24,463.00) scale(0.960,1)">0.05</text>
<text class="t" text-anchor="middle" transform="translate(711.86,463.00) scale(0.960,1)">0.06</text>
<text class="t" text-anchor="middle" transform="translate(747.47,463.00) scale(0.960,1)">0.07</text>
<text class="t" text-anchor="middle" transform="translate(783.09,463.00) scale(0.960,1)">0.08</text>
<text class="t" text-anchor="end" transform="translate(783.49,476.20) scale(0.960,1)">+5.667432e4</text>
<text class="t" text-anchor="end" transform="translate(493.56,452.00) scale(0.960,1)">−0.70</text>
<text class="t" text-anchor="end" transform="translate(493.56,416.00) scale(0.960,1)">−0.65</text>
<text class="t" text-anchor="end" transform="translate(493.56,380.00) scale(0.960,1)">−0.60</text>
<text class="t" text-anchor="end" transform="translate(493.56,343.00) scale(0.960,1)">−0.55</text>
<text class="t" text-anchor="end" transform="translate(493.56,307.00) scale(0.960,1)">−0.50</text>
<text class="t" text-anchor="end" transform="translate(493.56,271.00) scale(0.960,1)">−0.45</text>
<text class="ti" text-anchor="middle" transform="translate(640.62,261.18) scale(0.890,1)">U2</text>
<text class="t" text-anchor="middle" transform="translate(459.26,359.59) rotate(-90) scale(0.960,1)">U2</text>
</g>
<g>
<clipPath id="c21"><rect x="840.07" y="268.18" width="284.93" height="181.82"/></clipPath>
<g clip-path="url(#c21)">
<path d="M874.08,427.2h.25V428.6h.25V427.5h.25V426.4h.25V428.5h.25V427.4h.25V428.1h.25V428.4h.25V428h.25V427h.25V428.2h.25V427.1h.25V427.7h.25V428.5h.25V427.9h.25V427.9h.25V427.7h.25V426.4h.25V426h.25V427.4h.25V424.7h.25V426.5h.25V424.7h.25V425.8h.25V426.6h.25V427h.25V424.9h.25V424.3h.25V426.1h.25V427.1h.25V425.4h.25V425.7h.25V425.1h.25V424.1h.25V424.1h.25V425.6h.25V426.3h.25V426h.25V426h.25V425.4h.25V425.7h.25V425.1h.25V426h.25V425.5h.25V423.6h.25V424.9h.25V424.1h.25V425.2h.25V426.4h.25V425.8h.25V409.6h.25V399.4h.25V398.7h.25V399.4h.25V409.6h.25V417.1h.25V415.3h.25V414h.25V413.3h.25V413h.25V413.3h.25V414h.25V415.3h.25V417.1h.25V419.5h.25V422.3h.25V425.4h.25V424.6h.25V425.3h.25V427.1h.25V425.9h.25V426.5h.25V424.1h.25V426.6h.25V426.7h.25V424.7h.25V426.3h.25V426.8h.25V425.1h.25V424.4h.25V425.9h.25V426.5h.25V424.7h.25V426.1h.25V426.3h.25V423.8h.25V422.7h.25V421.6h.25V420.8h.25V420h.25V419.4h.25V418.9h.25V418.7h.25V418.9h.25V419.4h.25V420h.25V420.7h.25V421.6h.25V422.5h.25V423.6h.25V426.3h.25V427.6h.25V426.9h.25V425.8h.25V425.6h.25V426h.25V427.2h.25V425.5h.25V425.1h.25V425.1h.25V425h.25V425.2h.25V425.8h.25V425.8h.25V426.1h.25V425.2h.25V425.9h.25V424.7h.25V426.1h.25V426h.25V426.4h.25V425.9h.25V424.7h.25V424.5h.25V424h.25V422.8h.25V421.1h.25V419.6h.25V418.3h.25V417.3h.25V416.6h.25V416.2h.25V416.6h.25V417.3h.25V418.3h.25V419.5h.25V421h.25V422.6h.25V423.8h.25V425.1h.25V424.8h.25V426.4h.25V425.6h.25V426.6h.25V426.8h.25V426.2h.25V424.5h.25V425.2h.25V425.1h.25V425.6h.25V424.9h.25V424.2h.25V424.2h.25V424.9h.25V425.7h.25V425h.25V423h.25V424.2h.25V425.2h.25V425.8h.25V425.3h.25V421h.25V415.9h.25V412.4h.25V410.2h.25V409.5h.25V410.2h.25V412.4h.25V415.9h.25V418.2h.25V416.4h.25V414.7h.25V416.4h.25V418.2h.25V420h.25V421.7h.25V425h.25V424.6h.25V425.4h.25V424.5h.25V423.7h.25V423.6h.25V422h.25V424.5h.25V424.7h.25V424.4h.25V424.4h.25V422.7h.25V424.3h.25V423.7h.25V421.5h.25V423.7h.25V423.5h.25V423.5h.25V423.7h.25V423.6h.25V422.2h.25V424.3h.25V424.9h.25V423.1h.25V423.3h.25V423.9h.25V423.7h.25V418.3h.25V415.9h.25V414.3h.25V413.4h.25V412.9h.25V412.7h.25V412.7h.25V412.7h.25V412.9h.25V413.4h.25V414.2h.25V415.7h.25V417.8h.25V420.5h.25V422.7h.25V423.1h.25V422.8h.25V423h.25V422.2h.25V420.1h.25V420.1h.25V422.6h.25V421.6h.25V422h.25V421.4h.25V422.8h.25V423.1h.25V422.8h.25V420.7h.25V422.9h.25V423h.25V422h.25V422.9h.25V422.5h.25V420h.25V422.5h.25V421.2h.25V420.8h.25V413.8h.25V409.1h.25V408.8h.25V409.1h.25V413.8h.25V416.9h.25V416.5h.25V416.1h.25V415.9h.25V415.7h.25V415.7h.25V415.7h.25V415.9h.25V416.1h.25V410.9h.25V404.3h.25V403.9h.25V404.3h.25V410.9h.25V419.5h.25V420.4h.25V422.6h.25V423.1h.25V421.2h.25V422.3h.25V422.2h.25V422.8h.25V420.9h.25V420.9h.25V422.6h.25V422.2h.25V422.4h.25V422.2h.25V420.7h.25V421.3h.25V420.2h.25V421.2h.25V421.9h.25V420.9h.25V422.4h.25V413.7h.25V409.1h.25V408.8h.25V409.1h.25V413.7h.25V418h.25V417.3h.25V416.5h.25V415.7h.25V416.5h.25V417.3h.25V418h.25V418.8h.25V419.6h.25V420.4h.25V420.1h.25V420.4h.25V419.1h.25V421h.25V420.6h.25V421.1h.25V421.9h.25V419.9h.25V420.3h.25V419h.25V418.9h.25V420.2h.25V420.4h.25V419.9h.25V422.8h.25V422.1h.25V419.5h.25V419.9h.25V421.4h.25V420h.25V421.8h.25V419h.25V420.9h.25V420.7h.25V421.3h.25V422.4h.25V420.8h.25V420.5h.25V420.1h.25V419.6h.25V418.4h.25V420.8h.25V418.9h.25V419.9h.25V417h.25V417.7h.25V419.1h.25V418h.25V416.9h.25V416.7h.25V416.5h.25V418h.25V417.7h.25V416.3h.25V416.8h.25V416.2h.25V417.6h.25V417.5h.25V416.7h.25V417.5h.25V416h.25V419h.25V415.9h.25V418.4h.25V418.3h.25V417.5h.25V415.8h.25V419.1h.25V418.7h.25V417.1h.25V417.4h.25V418.6h.25V418.8h.25V417.6h.25V419.1h.25V419h.25V420.2h.25V419.8h.25V419.6h.25V419.7h.25V419.2h.25V419.8h.25V420.8h.25V420.7h.25V419.1h.25V419.6h.25V419.6h.25V417.1h.25V418.3h.25V418.2h.25V418.7h.25V422.3h.25V421.3h.25V421.9h.25V421.3h.25V422h.25V421.9h.25V423.1h.25V421.3h.25V422h.25V422.4h.25V423.1h.25V422.3h.25V421.9h.25V422.4h.25V421.2h.25V421.3h.25V420.7h.25V419.2h.25V421.3h.25V420.7h.25V421.6h.25V420.7h.25V420h.25V420.8h.25V421.6h.25V419.7h.25V420.2h.25V420.4h.25V418.9h.25V419.5h.25V419.1h.25V418.2h.25V418.3h.25V417.6h.25V418.2h.25V418.1h.25V417.4h.25V416.3h.25V417.4h.25V417.9h.25V418h.25V418.1h.25V418.8h.25V418.4h.25V418.5h.25V416.8h.25V420h.25V419.9h.25V420.5h.25V420.3h.25V419.3h.25V421h.25V420.2h.25V420.3h.25V419.2h.25V419.9h.25V417.9h.25V418.9h.25V418.4h.25V419.1h.25V420.5h.25V420.5h.25V417.4h.25V420.1h.25V420.4h.25V419.1h.25V419.1h.25V419.9h.25V419.3h.25V420.4h.25V420.2h.25V420.5h.25V421h.25V420h.25V420.8h.25V419.4h.25V418.5h.25V421.8h.25V420.1h.25V420.2h.25V419.6h.25V419.1h.25V419.7h.25V418.3h.25V419.8h.25V419.2h.25V420.1h.25V418.6h.25V420.3h.25V418h.25V420.6h.25V420.2h.25V420h.25V420.8h.25V419.9h.25V421.4h.25V418.7h.25V420.9h.25V419.7h.25V421.7h.25V422.7h.25V422.5h.25V420.9h.25V420.4h.25V422.7h.25V422.6h.25V422.6h.25V423.1h.25V422.8h.25V421.4h.25V422.7h.25V420.9h.25V421.2h.25V421.6h.25V421.3h.25V421.6h.25V420.4h.25V421.1h.25V420.3h.25V420.3h.25V419.9h.25V421h.25V419.5h.25V420.6h.25V420.1h.25V418.1h.25V417.8h.25V419.2h.25V419.3h.25V419.2h.25V418.8h.25V417h.25V419.5h.25V420.4h.25V418.8h.25V418.8h.25V418.4h.25V418.4h.25V419.1h.25V418.6h.25V417h.25V418.1h.25V417.7h.25V418h.25V418.6h.25V419h.25V419.7h.25V420.5h.25V419.7h.25V418.4h.25V420.9h.25V418.8h.25V419.6h.25V417.7h.25V420.1h.25V420h.25V420.4h.25V419.1h.25V420.7h.25V420.5h.25V420.3h.25V417.9h.25V418.4h.25V419.8h.25V419.9h.25V420.7h.25V419.1h.25V418h.25V420h.25V420.5h.25V420.5h.25V420.2h.25V420.4h.25V420.5h.25V420.2h.25V419h.25V420.3h.25V421.1h.25V420.9h.25V421.6h.25V419.7h.25V421.7h.25V420.5h.25V420.1h.25V420.4h.25V422.1h.25V420.3h.25V421.2h.25V420.3h.25V422.1h.25V421.3h.25V420.4h.25V422.9h.25V421h.25V422.3h.25V422.5h.25V423.1h.25V422.6h.25V423.4h.25V423.5h.25V423.8h.25V423.6h.25V422.7h.25V422.6h.25V421.3h.25V423.1h.25V423h.25V422h.25V422.5h.25V423.6h.25V422.6h.25V424.3h.25V422.2h.25V423.5h.25V423.6h.25V424.4h.25V423.1h.25V423.3h.25V423.7h.25V424.3h.25V422.4h.25V423.4h.25V424h.25V423.5h.25V423.6h.25V423h.25V423.7h.25V422.3h.25V423.8h.25V423h.25V423.4h.25V421h.25V424.3h.25V425h.25V425h.25V424.9h.25V424.3h.25V425h.25V420.8h.25V422.2h.25V423.6h.25V424.3h.25V424h.25V423.2h.25V423.6h.25V423.3h.25V423h.25V421.4h.25V423.5h.25V420.8h.25V422h.25V421.5h.25V423.1h.25V423.2h.25V423.1h.25V422.4h.25V423.4h.25V424.4h.25V424h.25V421.3h.25V424.9h.25V423.1h.25V423.3h.25V424.5h.25V424.3h.25V424.2h.25V425.1h.25V424.2h.25V422.7h.25V423.3h.25V423.6h.25V421.9h.25V422.1h.25V422.6h.25V422.4h.25V423.2h.25V422.5h.25V422h.25V423.4h.25V422.7h.25V422.8h.25V422.9h.25V422.7h.25V423.8h.25V423.5h.25V422.7h.25V422.9h.25V422.5h.25V423.1h.25V422.8h.25V421.3h.25V422.5h.25V423.2h.25V420.1h.25V421.7h.25V421.5h.25V421.3h.25V421.2h.25V421.3h.25V422.5h.25V422.8h.25V422.6h.25V420.3h.25V422.5h.25V422.3h.25V420.8h.25V422.8h.25V422.2h.25V423.5h.25V423.9h.25V423.1h.25V422.8h.25V424.3h.25V422.7h.25V423.6h.25V423.8h.25V424.5h.25V425.2h.25V424.9h.25V424.3h.25V425.4h.25V425.6h.25V425.1h.25V426.3h.25V426.3h.25V425.4h.25V425.1h.25V425.2h.25V426.2h.25V425.4h.25V424h.25V425.6h.25V423.2h.25V424.7h.25V422.9h.25V425.5h.25V425h.25V425.4h.25V424.8h.25V422.4h.25V420h.25V418.6h.25V417.9h.25V417.6h.25V417.6h.25V417.6h.25V417.9h.25V418.6h.25V420h.25V422.4h.25V423.6h.25V425.3h.25V425.4h.25V413h.25V405.4h.25V404.9h.25V405.4h.25V413h.25V426.4h.25V427.8h.25V426.8h.25V427.2h.25V427h.25V426h.25V428.7h.25V426.2h.25V427.5h.25V426.8h.25V414.4h.25V407.6h.25V407.2h.25V407.6h.25V414.4h.25V426.6h.25V426.5h.25V426.5h.25V426.5h.25V425.4h.25V425.3h.25V425.2h.25V426.5h.25V425.7h.25V426.2h.25V424.2h.25V424.7h.25V426.6h.25V426.7h.25V426.7h.25V425.6h.25V426.1h.25V422.3h.25V425.2h.25V425.4h.25V425.3h.25V424.8h.25V424.9h.25V424.9h.25V423.9h.25V426.9h.25V427.2h.25V427.1h.25V427.1h.25V426.8h.25V427h.25V426.5h.25V426h.25V426.5h.25V425.7h.25V424.9h.25V425.3h.25V426.6h.25V426h.25V422.9h.25V425.6h.25V423.4h.25V423.9h.25V423.7h.25V424.5h.25V423h.25V423.4h.25V423.9h.25V423.6h.25V423h.25V422.8h.25V421.1h.25V420.6h.25V423h.25V421.7h.25V421h.25V423.3h.25V421.1h.25V420.7h.25V422.8h.25V422.7h.25V423.5h.25V423.2h.25V423.9h.25V423.1h.25V423.9h.25V424.2h.25V422.1h.25V424.3h.25V422.7h.25V423.4h.25V424.8h.25V425.1h.25V424.9h.25V425.5h.25V423.5h.25V423.1h.25V424.2h.25V424.9h.25V425.2h.25V425.3h.25V424.7h.25V425.3h.25V425.2h.25V425.7h.25V424.6h.25V426.1h.25V425.8h.25V425.8h.25V424.9h.25V425.1h.25V424.9h.25V426.4h.25V424.2h.25V426.1h.25V426.6h.25V425.4h.25V423.6h.25V426h.25V425h.25V425.6h.25V425.1h.25V424.7h.25V425.4h.25V425.5h.25V426.3h.25V426h.25V424.4h.25V424.1h.25V425h.25V425h.25V424.6h.25V425.4h.25V425.1h.25V425.2h.25V425.1h.25V423.3h.25V424.9h.25V423.5h.25V424.6h.25V424.5h.25V425h.25V423.3h.25V425.1h.25V422.9h.25V424.7h.25V423.2h.25V423.6h.25V425.8h.25V425.9h.25V425.9h.25V426.5h.25V424h.25V425.8h.25V424.6h.25V423.3h.25V422.4h.25V423.6h.25V424h.25V423h.25V423.2h.25V424.6h.25V423.5h.25V423.7h.25V423.4h.25V423.2h.25V424h.25V422.7h.25V423.1h.25V422.6h.25V423.2h.25V423.1h.25V420.9h.25V423.3h.25V422.1h.25V421.9h.25V422.4h.25V422.1h.25V423.2h.25V423.7h.25V422.6h.25V422.8h.25V422.9h.25V423.2h.25V422.8h.25V423h.25V422.8h.25V422.1h.25V422.6h.25V421.2h.25V423.9h.25V423.4h.25V424.2h.25V421.4h.25V422.2h.25V424.7h.25V424.3h.25V422.8h.25V423.1h.25V423.2h.25V423.9h.25V423.3h.25V424.3h.25V423h.25V424.2h.25V423.9h.25V422.5h.25V423.1h.25V421.2h.25V422.8h.25V423.2h.25V422.6h.25V421.9h.25V421.6h.25V421.5h.25V421.6h.25V419.4h.25V420h.25V421.9h.25V419.8h.25V422.4h.25V420.5h.25V420.5h.25V419.7h.25V419.7h.25V420.3h.25V418.8h.25V419.7h.25V419.2h.25V419.5h.25V418.4h.25V420.4h.25V418.8h.25V421.5h.25V422h.25V420.5h.25V421h.25V419.6h.25V422.6h.25V420.9h.25V421.8h.25V422.6h.25V432.6h-.25V432.3h-.25V433.1h-.25V432.4h-.25V433.4h-.25V432.5h-.25V432.5h-.25V432.8h-.25V433.6h-.25V432.2h-.25V433.1h-.25V432.8h-.25V431.9h-.25V433h-.25V432.5h-.25V432.2h-.25V432.8h-.25V433.9h-.25V433.1h-.25V434.3h-.25V432.1h-.25V432.6h-.25V433.5h-.25V433.6h-.25V433.1h-.25V433.2h-.25V432.6h-.25V433h-.25V433.7h-.25V433.3h-.25V434h-.25V433.3h-.25V435.3h-.25V433.1h-.25V434.2h-.25V433.9h-.25V433.6h-.25V433.6h-.25V434.7h-.25V433.9h-.25V433.7h-.25V434.7h-.25V435.4h-.25V433.9h-.25V434.2h-.25V434.7h-.25V435.5h-.25V434.9h-.25V433.7h-.25V434h-.25V435h-.25V435h-.25V434.5h-.25V434.5h-.25V434.2h-.25V434.2h-.25V434.2h-.25V435.5h-.25V434.3h-.25V434h-.25V434.3h-.25V434.3h-.25V434.6h-.25V435.2h-.25V433.9h-.25V433h-.25V434.9h-.25V434.7h-.25V433.3h-.25V435.6h-.25V435.5h-.25V433.5h-.25V435.7h-.25V434.2h-.25V435.2h-.25V435.5h-.25V434.4h-.25V435.1h-.25V433.8h-.25V433.6h-.25V434.2h-.25V433.7h-.25V434.7h-.25V433.4h-.25V434.8h-.25V434.6h-.25V434.5h-.25V435.3h-.25V436h-.25V434h-.25V436.6h-.25V434.8h-.25V435.9h-.25V434.5h-.25V435.4h-.25V434.8h-.25V434.1h-.25V436.1h-.25V434.5h-.25V434.8h-.25V434.9h-.25V436.3h-.25V434.9h-.25V433.9h-.25V436.1h-.25V435.4h-.25V434.8h-.25V434.9h-.25V434.3h-.25V435.6h-.25V434.9h-.25V434.6h-.25V434.4h-.25V435h-.25V436.1h-.25V436.4h-.25V435.8h-.25V436.8h-.25V435.9h-.25V435.8h-.25V435.5h-.25V436.8h-.25V435.8h-.25V436.7h-.25V436.1h-.25V436.3h-.25V435.4h-.25V437.1h-.25V435.3h-.25V436h-.25V435.4h-.25V435.7h-.25V436.9h-.25V436.5h-.25V435.3h-.25V434.7h-.25V434.8h-.25V434.3h-.25V435.9h-.25V436.4h-.25V435.2h-.25V435.1h-.25V435.7h-.25V435.2h-.25V437.2h-.25V436h-.25V435.5h-.25V436.1h-.25V436.4h-.25V436h-.25V435.2h-.25V436h-.25V436.8h-.25V436.1h-.25V437.1h-.25V436h-.25V436.8h-.25V437.1h-.25V435.8h-.25V438.2h-.25V437.2h-.25V436.7h-.25V437.2h-.25V436.5h-.25V437.8h-.25V436h-.25V435.8h-.25V435.9h-.25V435.8h-.25V436.4h-.25V436.4h-.25V436.4h-.25V435.6h-.25V435.9h-.25V435.2h-.25V436h-.25V436.6h-.25V436.9h-.25V435.9h-.25V437.2h-.25V436.1h-.25V437h-.25V436.1h-.25V436.3h-.25V437.6h-.25V436.5h-.25V436.3h-.25V436.2h-.25V437.3h-.25V437.4h-.25V438.3h-.25V436.6h-.25V437.7h-.25V437.3h-.25V438.9h-.25V436.8h-.25V436.2h-.25V437.8h-.25V437.1h-.25V437.1h-.25V436h-.25V437.9h-.25V437.6h-.25V436.6h-.25V436.4h-.25V437.8h-.25V438.9h-.25V438.7h-.25V436.6h-.25V439.3h-.25V437.3h-.25V438.6h-.25V438.3h-.25V439.2h-.25V439.2h-.25V439.7h-.25V439.8h-.25V438.1h-.25V437.8h-.25V437.4h-.25V438.9h-.25V436.9h-.25V437.9h-.25V437.5h-.25V437h-.25V436.9h-.25V437.7h-.25V438.5h-.25V436.7h-.25V438.5h-.25V437.4h-.25V438.1h-.25V437h-.25V437.9h-.25V437.4h-.25V436.6h-.25V437.8h-.25V437.8h-.25V436.3h-.25V436.8h-.25V436.9h-.25V437h-.25V437.7h-.25V437.4h-.25V437.2h-.25V436.4h-.25V436.9h-.25V437.8h-.25V437.1h-.25V436.1h-.25V436.2h-.25V438h-.25V436h-.25V436h-.25V437.5h-.25V435.9h-.25V435.8h-.25V435.9h-.25V437h-.25V438h-.25V437.6h-.25V436.1h-.25V437.4h-.25V436.9h-.25V436.6h-.25V435.6h-.25V435.4h-.25V436.3h-.25V436.6h-.25V436.6h-.25V436.5h-.25V437.6h-.25V436.2h-.25V437.1h-.25V436.1h-.25V436.2h-.25V436.6h-.25V436.1h-.25V436.8h-.25V434.3h-.25V434.8h-.25V435.5h-.25V435.1h-.25V436.2h-.25V434.9h-.25V436.6h-.25V434.7h-.25V435.2h-.25V434.6h-.25V435.4h-.25V434.8h-.25V434.2h-.25V434.3h-.25V434.5h-.25V434.8h-.25V434.5h-.25V434.2h-.25V434.8h-.25V434.8h-.25V436h-.25V434.7h-.25V435.3h-.25V434.7h-.25V434.6h-.25V435.2h-.25V434.7h-.25V434.1h-.25V434.4h-.25V434.7h-.25V435.1h-.25V434.9h-.25V434.8h-.25V435h-.25V434.5h-.25V435.1h-.25V434.7h-.25V436.2h-.25V435.2h-.25V435.2h-.25V436.1h-.25V436.2h-.25V436h-.25V436.4h-.25V435.5h-.25V435.9h-.25V435h-.25V435.6h-.25V436h-.25V437.1h-.25V435.1h-.25V435.7h-.25V436.3h-.25V436.6h-.25V436.2h-.25V436.2h-.25V436h-.25V435.1h-.25V435.6h-.25V436.3h-.25V435.7h-.25V437.8h-.25V435.2h-.25V436h-.25V436.1h-.25V436.7h-.25V434.8h-.25V435.5h-.25V435.2h-.25V433.9h-.25V435.8h-.25V435.7h-.25V434.6h-.25V436.1h-.25V434h-.25V434.4h-.25V434.6h-.25V434h-.25V434h-.25V435.1h-.25V435h-.25V435.4h-.25V434.2h-.25V435.3h-.25V434.7h-.25V435.5h-.25V433.8h-.25V433.2h-.25V434.7h-.25V434.2h-.25V434.7h-.25V433.6h-.25V435.1h-.25V433.9h-.25V434.5h-.25V433.2h-.25V434.2h-.25V434.6h-.25V435.7h-.25V433.7h-.25V433.9h-.25V434.3h-.25V434.8h-.25V434.8h-.25V433.4h-.25V434.4h-.25V434.2h-.25V434.2h-.25V433.9h-.25V434.2h-.25V433.9h-.25V434.2h-.25V435.1h-.25V433.4h-.25V433.3h-.25V433.3h-.25V434.9h-.25V435.5h-.25V433.2h-.25V433.4h-.25V433.9h-.25V434.2h-.25V434.9h-.25V432.6h-.25V434.1h-.25V433.9h-.25V433h-.25V433.2h-.25V432.6h-.25V433.3h-.25V434.8h-.25V433h-.25V431.9h-.25V433.3h-.25V433.5h-.25V432.7h-.25V433.2h-.25V434.1h-.25V432.9h-.25V432.9h-.25V432.9h-.25V433.3h-.25V434.3h-.25V433.8h-.25V434.1h-.25V432.7h-.25V434.1h-.25V432.6h-.25V435.1h-.25V432.6h-.25V433.2h-.25V432.3h-.25V432.5h-.25V433h-.25V434.3h-.25V432.7h-.25V432.4h-.25V431.8h-.25V433h-.25V432.9h-.25V432.3h-.25V432.3h-.25V432.2h-.25V432.9h-.25V433.7h-.25V432.8h-.25V432.3h-.25V433h-.25V433.4h-.25V433.2h-.25V434.4h-.25V432.6h-.25V432.9h-.25V432.3h-.25V432.4h-.25V434.7h-.25V433.1h-.25V434.4h-.25V432.1h-.25V434.1h-.25V432.7h-.25V432.1h-.25V432.6h-.25V432.7h-.25V431.9h-.25V432h-.25V432.8h-.25V432.9h-.25V432.6h-.25V432.2h-.25V432.6h-.25V434h-.25V432.9h-.25V432.3h-.25V433.2h-.25V432.6h-.25V432.5h-.25V433.2h-.25V433.2h-.25V432.9h-.25V433.1h-.25V432.4h-.25V432.5h-.25V433.4h-.25V433h-.25V432.7h-.25V432.6h-.25V433.4h-.25V432.7h-.25V433.6h-.25V433.8h-.25V432.4h-.25V433.5h-.25V433.6h-.25V433.6h-.25V433.3h-.25V432.7h-.25V433.9h-.25V431.8h-.25V432h-.25V432.3h-.25V434.2h-.25V431.8h-.25V432.8h-.25V432.5h-.25V431.9h-.25V432.5h-.25V434.9h-.25V436.2h-.25V436.3h-.25V436.2h-.25V434.9h-.25V431.1h-.25V432.6h-.25V431.5h-.25V431.4h-.25V432.9h-.25V432.9h-.25V431.9h-.25V432h-.25V431.3h-.25V433.6h-.25V431.4h-.25V432h-.25V432.8h-.25V431.8h-.25V432.2h-.25V431.7h-.25V433.4h-.25V432.1h-.25V432.9h-.25V432.9h-.25V431.8h-.25V432.4h-.25V432.5h-.25V432.1h-.25V432.1h-.25V432.6h-.25V432.1h-.25V432.9h-.25V432.7h-.25V432.9h-.25V432.1h-.25V432.5h-.25V432.6h-.25V431.7h-.25V432.9h-.25V432h-.25V432.9h-.25V433.3h-.25V431.2h-.25V432.7h-.25V433.5h-.25V431.5h-.25V432.6h-.25V432.3h-.25V431.7h-.25V432.7h-.25V431.9h-.25V431.5h-.25V432.5h-.25V432.6h-.25V431.3h-.25V432h-.25V431.4h-.25V431.8h-.25V432.1h-.25V432.8h-.25V431.7h-.25V432.1h-.25V431.7h-.25V431.8h-.25V431.5h-.25V430.9h-.25V431.8h-.25V432.2h-.25V430.7h-.25V432.2h-.25V430.8h-.25V431.2h-.25V433.2h-.25V431.6h-.25V431h-.25V431.2h-.25V431.7h-.25V432.3h-.25V431.5h-.25V431.1h-.25V432.3h-.25V431.6h-.25V432.7h-.25V431.1h-.25V430h-.25V431.2h-.25V431.4h-.25V430.8h-.25V430.5h-.25V431.1h-.25V431.2h-.25V432h-.25V430.4h-.25V432.8h-.25V432h-.25V431.5h-.25V432.7h-.25V432.4h-.25V431.3h-.25V431.5h-.25V431.2h-.25V432.8h-.25V431.8h-.25V431.4h-.25V432.6h-.25V431.5h-.25V431.6h-.25V432.5h-.25V432.6h-.25V431.3h-.25V433.3h-.25V432.2h-.25V433h-.25V432.5h-.25V432.3h-.25V431.4h-.25V431.6h-.25V431.5h-.25V431.6h-.25V431.7h-.25V431.1h-.25V431.2h-.25V430.8h-.25V431.9h-.25V431.8h-.25V432.5h-.25V431.5h-.25V432.6h-.25V431.3h-.25V430.8h-.25V431.4h-.25V431.4h-.25V432.4h-.25V431.4h-.25V431.3h-.25V431.6h-.25V431.2h-.25V431.6h-.25V431.5h-.25V433.5h-.25V433.1h-.25V432.3h-.25V431.8h-.25V432.9h-.25V431.9h-.25V432.2h-.25V431.8h-.25V432.7h-.25V432.8h-.25V431.9h-.25V432.1h-.25V432.1h-.25V432.1h-.25V432.4h-.25V433.1h-.25V433.5h-.25V433.3h-.25V433h-.25V432.9h-.25V433.2h-.25V432.9h-.25V434.1h-.25V433.3h-.25V432.5h-.25V433.8h-.25V431.9h-.25V433.9h-.25V431.8h-.25V433.4h-.25V432.7h-.25V433.7h-.25V433.8h-.25V432.9h-.25V432.9h-.25V433.6h-.25V433.2h-.25V433h-.25V432.6h-.25V434.7h-.25V433h-.25V433.2h-.25V434.7h-.25V434.6h-.25V433.3h-.25V432.7h-.25V433.1h-.25V433.3h-.25V433.3h-.25V433.2h-.25V433h-.25V433.7h-.25V433.3h-.25V432.7h-.25V433.5h-.25V433.8h-.25V432.7h-.25V433.2h-.25V433.7h-.25V433.2h-.25V432.5h-.25V432.1h-.25V432.4h-.25V432.9h-.25V434.1h-.25V433.6h-.25V432.4h-.25V432.7h-.25V432.5h-.25V432.5h-.25V432h-.25V433.2h-.25V433.4h-.25V432.6h-.25V433.1h-.25V432.5h-.25V432.4h-.25V432.9h-.25V433h-.25V433.9h-.25V433.9h-.25V432.3h-.25V433.3h-.25V434.6h-.25V431.8h-.25V433.3h-.25V433.1h-.25V432.8h-.25V433.6h-.25V433.3h-.25V433.2h-.25V433.8h-.25V434.8h-.25V433.2h-.25V434.6h-.25V433.4h-.25V433.1h-.25V433.9h-.25V434.2h-.25V435.2h-.25V434.1h-.25V433.4h-.25V433.3h-.25V434.2h-.25V433.5h-.25V432.5h-.25V433h-.25V433.6h-.25V433.1h-.25V433.3h-.25V433.6h-.25V433.8h-.25V435.6h-.25V434.7h-.25V434.3h-.25V434.7h-.25V435.1h-.25V434.9h-.25V435.2h-.25V435.4h-.25V435.9h-.25V434.9h-.25V434.7h-.25V435.1h-.25V434.6h-.25V435.2h-.25V435.8h-.25V435.6h-.25V435.5h-.25V437.4h-.25V438.1h-.25V438.1h-.25V438.1h-.25V437.5h-.25V436.5h-.25V436.7h-.25V436.2h-.25V436.8h-.25V436.1h-.25V435.4h-.25V436.4h-.25V435.7h-.25V436.8h-.25V436.7h-.25V435.8h-.25V435.4h-.25V437.3h-.25V436h-.25V436.8h-.25V435.6h-.25V435.9h-.25V436.3h-.25V436.4h-.25V435.3h-.25V436.3h-.25V436.3h-.25V436.6h-.25V436.1h-.25V435.5h-.25V437h-.25V436.8h-.25V436.1h-.25V437.1h-.25V437.3h-.25V437.8h-.25V435.7h-.25V436.7h-.25V437.8h-.25V435.7h-.25V435.4h-.25V436.1h-.25V436.4h-.25V436h-.25V436.9h-.25V435.7h-.25V436.4h-.25V435.5h-.25V436h-.25V436.3h-.25V436.6h-.25V436.4h-.25V436.2h-.25V436.3h-.25V436.2h-.25V436.6h-.25V437.1h-.25V438.1h-.25V435.6h-.25V435.9h-.25V435.6h-.25V436.1h-.25V435.5h-.25V435.6h-.25V437.9h-.25V436.8h-.25V435.7h-.25V436.2h-.25V437.4h-.25V436.6h-.25V436.5h-.25V436.1h-.25V436h-.25V436.8h-.25V436.6h-.25V437.3h-.25V436.7h-.25V438.4h-.25V437h-.25V436.1h-.25V436.1h-.25V437.7h-.25V436.4h-.25V437.4h-.25V437.2h-.25V437.7h-.25V437h-.25V436.5h-.25V437.1h-.25V437.6h-.25V437.6h-.25V437.6h-.25V436.9h-.25V436.9h-.25V437.1h-.25V436.5h-.25V437.1h-.25V437.9h-.25V437.2h-.25V437.8h-.25V436.7h-.25V437.5h-.25V437.5h-.25V438.9h-.25V436.8h-.25V437.7h-.25V438.2h-.25V437h-.25V437.2h-.25V439.7h-.25V437.6h-.25V438.4h-.25V437.9h-.25V437.7h-.25V438.8h-.25V438.1h-.25V438.6h-.25V437.8h-.25V437.6h-.25V437.6h-.25V437.9h-.25V436.9h-.25V438.5h-.25V438h-.25V437.6h-.25V437.4h-.25V438.4h-.25V438.4h-.25V438.3h-.25V438.5h-.25V438.9h-.25V437.9h-.25V437.6h-.25V437.9h-.25V439.3h-.25V439.1h-.25V439.6h-.25V438.6h-.25V440.5h-.25V437.7h-.25V438.1h-.25V438.5h-.25V438.6h-.25V437.8h-.25V440.1h-.25V439.5h-.25V437.8h-.25V438.2h-.25V438.7h-.25V439.1h-.25V438.7h-.25V439.6h-.25V439.5h-.25V439.5h-.25V438h-.25V439.6h-.25V439.4h-.25V439.9h-.25V441.5h-.25V440.6h-.25V439.6h-.25V439.5h-.25V440.8h-.25V439.6h-.25V439.9h-.25V440.9h-.25V439.9h-.25V439.9h-.25V439.4h-.25V439.6h-.25V439.1h-.25V438.7h-.25V439.3h-.25V438.9h-.25V440h-.25V440.1h-.25V438.9h-.25V438.9h-.25V438.9h-.25V439.1h-.25V438h-.25V440.2h-.25V438.6h-.25V438.8h-.25V438.5h-.25V437.9h-.25V438.7h-.25V439.3h-.25V439.6h-.25V439.2h-.25V439.9h-.25V440.8h-.25V439.3h-.25V439.3h-.25V439.9h-.25V438.7h-.25V439.6h-.25Z" fill="#0000ff" stroke="#0000ff" stroke-width="1.39" stroke-linejoin="miter"/>
<line x1="877.85" y1="285.0" x2="877.85" y2="430.0" stroke="#0000ff" stroke-width="2.30"/>
<line x1="881.00" y1="312.0" x2="881.00" y2="430.0" stroke="#0000ff" stroke-width="2.10"/>
<line x1="879.45" y1="408.8" x2="879.45" y2="430.0" stroke="#0000ff" stroke-width="1.20"/>
<line x1="1069.5" y1="423.0" x2="1069.5" y2="440.0" stroke="#fff" stroke-width="0.7"/>
<line x1="885.0" y1="430.5" x2="885.0" y2="432.0" stroke="#008000" stroke-width="1.4"/>
<line x1="894.3" y1="430.0" x2="894.3" y2="431.0" stroke="#008000" stroke-width="1.4"/>
<line x1="903.4" y1="428.6" x2="903.4" y2="433.4" stroke="#008000" stroke-width="2.0"/>
<line x1="919.7" y1="426.4" x2="919.7" y2="431.8" stroke="#008000" stroke-width="1.4"/>
<line x1="927.0" y1="424.3" x2="927.0" y2="433.8" stroke="#008000" stroke-width="2.0"/>
<line x1="947.0" y1="426.6" x2="947.0" y2="429.2" stroke="#008000" stroke-width="1.4"/>
<line x1="950.9" y1="424.7" x2="950.9" y2="427.7" stroke="#008000" stroke-width="2.0"/>
<line x1="992.7" y1="426.4" x2="992.7" y2="431.8" stroke="#008000" stroke-width="1.4"/>
<line x1="1002.0" y1="427.6" x2="1002.0" y2="430.5" stroke="#008000" stroke-width="1.4"/>
<line x1="1009.1" y1="418.0" x2="1009.1" y2="436.4" stroke="#008000" stroke-width="2.4"/>
<line x1="1018.7" y1="423.7" x2="1018.7" y2="426.9" stroke="#008000" stroke-width="1.4"/>
<line x1="1031.1" y1="428.6" x2="1031.1" y2="431.6" stroke="#008000" stroke-width="2.0"/>
<line x1="1050.8" y1="428.6" x2="1050.8" y2="433.8" stroke="#008000" stroke-width="1.4"/>
<line x1="1060.1" y1="430.0" x2="1060.1" y2="432.5" stroke="#008000" stroke-width="1.4"/>
<line x1="1064.2" y1="427.3" x2="1064.2" y2="436.4" stroke="#008000" stroke-width="2.2"/>
<line x1="1067.1" y1="426.6" x2="1067.1" y2="435.0" stroke="#008000" stroke-width="2.2"/>
<line x1="1075.5" y1="427.3" x2="1075.5" y2="434.2" stroke="#008000" stroke-width="1.4"/>
<line x1="1089.1" y1="428.6" x2="1089.1" y2="432.5" stroke="#008000" stroke-width="2.0"/>
<line x1="1098.3" y1="426.4" x2="1098.3" y2="428.6" stroke="#008000" stroke-width="1.4"/>
<line x1="1107.4" y1="428.0" x2="1107.4" y2="431.8" stroke="#008000" stroke-width="1.4"/>
</g>
<path d="M840.5,450.5v-6.1M840.5,268.5v6.1M876.5,450.5v-6.1M876.5,268.5v6.1M911.5,450.5v-6.1M911.5,268.5v6.1M947.5,450.5v-6.1M947.5,268.5v6.1M983.5,450.5v-6.1M983.5,268.5v6.1M1018.5,450.5v-6.1M1018.5,268.5v6.1M1054.5,450.5v-6.1M1054.5,268.5v6.1M1089.5,450.5v-6.1M1089.5,268.5v6.1M1125.5,450.5v-6.1M1125.5,268.5v6.1M840.5,450.5h6.1M1125.5,450.5h-6.1M840.5,420.5h6.1M1125.5,420.5h-6.1M840.5,389.5h6.1M1125.5,389.5h-6.1M840.5,359.5h6.1M1125.5,359.5h-6.1M840.5,329.5h6.1M1125.5,329.5h-6.1M840.5,298.5h6.1M1125.5,298.5h-6.1M840.5,268.5h6.1M1125.5,268.5h-6.1" stroke="#000" stroke-width="0.7" fill="none"/>
<rect x="840.5" y="268.5" width="285.0" height="182.0" fill="none" stroke="#000" stroke-width="1.39"/>
<text class="t" text-anchor="middle" transform="translate(840.07,463.00) scale(0.960,1)">0.00</text>
<text class="t" text-anchor="middle" transform="translate(875.69,463.00) scale(0.960,1)">0.01</text>
<text class="t" text-anchor="middle" transform="translate(911.31,463.00) scale(0.960,1)">0.02</text>
<text class="t" text-anchor="middle" transform="translate(946.92,463.00) scale(0.960,1)">0.03</text>
<text class="t" text-anchor="middle" transform="translate(982.54,463.00) scale(0.960,1)">0.04</text>
<text class="t" text-anchor="middle" transform="translate(1018.15,463.00) scale(0.960,1)">0.05</text>
<text class="t" text-anchor="middle" transform="translate(1053.77,463.00) scale(0.960,1)">0.06</text>
<text class="t" text-anchor="middle" transform="translate(1089.38,463.00) scale(0.960,1)">0.07</text>
<text class="t" text-anchor="middle" transform="translate(1125.00,463.00) scale(0.960,1)">0.08</text>
<text class="t" text-anchor="end" transform="translate(1125.40,476.20) scale(0.960,1)">+5.667432e4</text>
<text class="t" text-anchor="end" transform="translate(835.47,452.00) scale(0.960,1)">−2.5</text>
<text class="t" text-anchor="end" transform="translate(835.47,422.00) scale(0.960,1)">−2.0</text>
<text class="t" text-anchor="end" transform="translate(835.47,392.00) scale(0.960,1)">−1.5</text>
<text class="t" text-anchor="end" transform="translate(835.47,361.00) scale(0.960,1)">−1.0</text>
<text class="t" text-anchor="end" transform="translate(835.47,331.00) scale(0.960,1)">−0.5</text>
<text class="t" text-anchor="end" transform="translate(835.47,301.00) scale(0.960,1)">0.0</text>
<text class="t" text-anchor="end" transform="translate(835.47,271.00) scale(0.960,1)">0.5</text>
<text class="ti" text-anchor="middle" transform="translate(982.54,261.18) scale(0.890,1)">I2</text>
<text class="t" text-anchor="middle" transform="translate(805.77,359.59) rotate(-90) scale(0.960,1)">I2</text>
</g>
</svg>
</body></html>
